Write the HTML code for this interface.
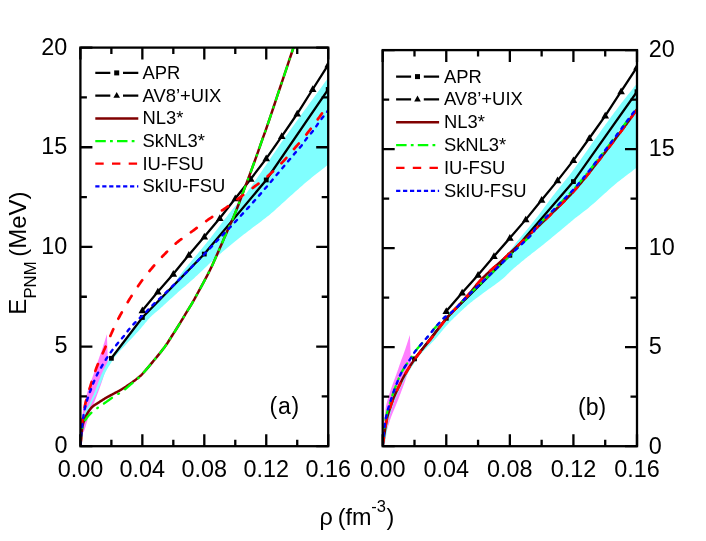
<!DOCTYPE html>
<html><head><meta charset="utf-8"><title>E_PNM</title>
<style>
html,body{margin:0;padding:0;background:#fff;}
svg{display:block;will-change:transform;}
text{font-family:"Liberation Sans",sans-serif;fill:#000;}
</style></head><body>
<svg width="706" height="541" viewBox="0 0 706 541">
<rect width="706" height="541" fill="#fff"/>
<clipPath id="clipa"><rect x="80.4" y="47.6" width="247.79999999999998" height="398.59999999999997"/></clipPath>
<g clip-path="url(#clipa)">
<path d="M81.17,432.25 L81.26,430.91 L81.35,429.55 L81.43,428.17 L81.51,426.79 L81.59,425.40 L81.68,424.03 L81.76,422.67 L81.85,421.32 L81.94,420.01 L82.04,418.73 L82.15,417.49 L82.26,416.31 L82.38,415.16 L82.49,414.06 L82.62,412.99 L82.74,411.95 L82.87,410.94 L83.00,409.96 L83.14,408.99 L83.29,408.05 L83.45,407.11 L83.61,406.18 L83.78,405.26 L83.96,404.35 L84.16,403.44 L84.36,402.55 L84.58,401.67 L84.81,400.81 L85.05,399.96 L85.29,399.12 L85.53,398.30 L85.78,397.48 L86.03,396.67 L86.27,395.87 L86.51,395.07 L86.75,394.28 L86.98,393.51 L87.19,392.78 L87.41,392.07 L87.62,391.37 L87.83,390.69 L88.04,390.00 L88.26,389.31 L88.48,388.60 L88.72,387.86 L88.97,387.09 L89.25,386.28 L89.54,385.41 L89.85,384.50 L90.19,383.54 L90.54,382.54 L90.91,381.52 L91.30,380.46 L91.69,379.39 L92.08,378.30 L92.48,377.21 L92.88,376.11 L93.27,375.02 L93.65,373.93 L94.03,372.86 L94.40,371.78 L94.77,370.69 L95.14,369.58 L95.51,368.46 L95.89,367.34 L96.26,366.22 L96.62,365.11 L96.98,364.01 L97.34,362.94 L97.69,361.89 L98.03,360.88 L98.37,359.90 L98.69,358.99 L98.99,358.14 L99.28,357.34 L99.56,356.57 L99.83,355.83 L100.11,355.09 L100.38,354.35 L100.67,353.58 L100.96,352.77 L101.26,351.90 L101.58,350.96 L101.93,349.94 L102.29,348.83 L102.67,347.65 L103.07,346.41 L103.48,345.12 L103.89,343.79 L104.32,342.43 L104.75,341.05 L105.18,339.66 L105.61,338.27 L106.04,336.88 L106.47,335.52 L106.88,334.19 L107.97,362.89 L107.70,363.72 L107.42,364.56 L107.15,365.39 L106.88,366.23 L106.60,367.06 L106.33,367.90 L106.06,368.73 L105.79,369.57 L105.52,370.39 L105.25,371.22 L104.98,372.04 L104.72,372.86 L104.45,373.67 L104.20,374.47 L103.94,375.27 L103.69,376.06 L103.44,376.85 L103.19,377.64 L102.93,378.43 L102.68,379.22 L102.42,380.01 L102.16,380.81 L101.89,381.61 L101.62,382.42 L101.34,383.23 L101.06,384.04 L100.78,384.84 L100.50,385.64 L100.21,386.45 L99.92,387.26 L99.63,388.08 L99.33,388.90 L99.02,389.75 L98.71,390.61 L98.39,391.49 L98.06,392.39 L97.71,393.32 L97.36,394.27 L97.01,395.24 L96.64,396.23 L96.27,397.23 L95.89,398.24 L95.50,399.26 L95.12,400.29 L94.73,401.31 L94.34,402.33 L93.95,403.34 L93.56,404.35 L93.17,405.34 L92.77,406.33 L92.37,407.31 L91.96,408.30 L91.55,409.28 L91.13,410.26 L90.72,411.25 L90.32,412.25 L89.92,413.25 L89.52,414.25 L89.14,415.27 L88.76,416.31 L88.39,417.38 L88.02,418.52 L87.64,419.71 L87.26,420.92 L86.89,422.14 L86.53,423.34 L86.18,424.52 L85.84,425.64 L85.53,426.70 L85.24,427.67 L84.97,428.53 L84.74,429.26 L84.54,429.86 L84.37,430.33 L84.23,430.71 L84.12,430.99 L84.02,431.21 L83.94,431.38 L83.87,431.51 L83.81,431.62 L83.74,431.74 L83.67,431.87 L83.59,432.03 L83.50,432.25Z" fill="#ff80ff"/>
<path d="M81.17,436.24 L81.24,435.23 L81.29,434.21 L81.34,433.18 L81.39,432.14 L81.44,431.10 L81.49,430.07 L81.55,429.05 L81.61,428.04 L81.68,427.06 L81.76,426.10 L81.85,425.17 L81.95,424.28 L82.06,423.42 L82.19,422.57 L82.32,421.75 L82.47,420.96 L82.61,420.18 L82.77,419.42 L82.93,418.68 L83.10,417.97 L83.27,417.27 L83.45,416.60 L83.63,415.94 L83.81,415.31 L83.99,414.70 L84.19,414.12 L84.39,413.56 L84.59,413.02 L84.80,412.50 L85.02,412.01 L85.23,411.53 L85.45,411.06 L85.66,410.61 L85.87,410.17 L86.08,409.75 L86.29,409.33 L86.48,408.95 L86.65,408.64 L86.82,408.37 L86.97,408.12 L87.13,407.90 L87.29,407.67 L87.46,407.42 L87.64,407.15 L87.85,406.82 L88.07,406.43 L88.32,405.95 L88.61,405.38 L88.93,404.71 L89.29,403.96 L89.68,403.13 L90.09,402.24 L90.52,401.31 L90.96,400.33 L91.41,399.33 L91.86,398.32 L92.31,397.31 L92.74,396.30 L93.16,395.33 L93.56,394.38 L93.95,393.46 L94.32,392.54 L94.69,391.61 L95.05,390.68 L95.41,389.76 L95.76,388.83 L96.11,387.90 L96.47,386.97 L96.82,386.04 L97.18,385.11 L97.54,384.19 L97.90,383.26 L98.27,382.34 L98.63,381.41 L98.98,380.48 L99.34,379.56 L99.70,378.63 L100.06,377.71 L100.43,376.78 L100.80,375.86 L101.18,374.93 L101.57,374.01 L101.97,373.08 L102.39,372.16 L102.83,371.22 L103.30,370.24 L103.80,369.24 L104.30,368.23 L104.82,367.22 L105.33,366.22 L105.85,365.25 L106.35,364.30 L106.84,363.41 L107.30,362.57 L107.73,361.79 L108.12,361.10 L108.44,360.54 L108.67,360.13 L108.82,359.83 L108.94,359.62 L109.03,359.46 L109.14,359.30 L109.28,359.11 L109.48,358.87 L109.76,358.52 L110.15,358.03 L110.68,357.38 L111.38,356.51 L112.24,355.44 L113.25,354.21 L114.39,352.82 L115.63,351.32 L116.96,349.71 L118.35,348.03 L119.79,346.30 L121.25,344.53 L122.70,342.75 L124.14,340.98 L125.53,339.25 L126.86,337.58 L128.15,335.92 L129.44,334.22 L130.73,332.49 L132.03,330.75 L133.32,328.99 L134.61,327.23 L135.90,325.48 L137.19,323.76 L138.48,322.06 L139.77,320.40 L141.06,318.80 L142.35,317.25 L143.65,315.76 L144.97,314.31 L146.29,312.89 L147.63,311.50 L148.96,310.15 L150.29,308.82 L151.60,307.52 L152.90,306.24 L154.18,304.98 L155.44,303.74 L156.66,302.52 L157.84,301.31 L158.98,300.14 L160.07,299.03 L161.14,297.97 L162.17,296.94 L163.19,295.93 L164.19,294.93 L165.18,293.92 L166.17,292.89 L167.16,291.84 L168.16,290.74 L169.18,289.58 L170.23,288.35 L171.30,287.05 L172.38,285.66 L173.48,284.21 L174.59,282.72 L175.70,281.20 L176.81,279.66 L177.92,278.12 L179.02,276.59 L180.10,275.09 L181.17,273.64 L182.22,272.24 L183.24,270.92 L184.23,269.66 L185.20,268.46 L186.16,267.30 L187.10,266.17 L188.02,265.07 L188.94,264.00 L189.85,262.94 L190.75,261.89 L191.65,260.83 L192.56,259.77 L193.47,258.70 L194.39,257.60 L195.32,256.48 L196.27,255.34 L197.24,254.18 L198.21,253.01 L199.18,251.84 L200.14,250.68 L201.08,249.54 L202.01,248.42 L202.91,247.33 L203.78,246.27 L204.60,245.27 L205.38,244.31 L206.08,243.46 L206.66,242.74 L207.17,242.12 L207.63,241.56 L208.05,241.03 L208.48,240.50 L208.93,239.93 L209.44,239.29 L210.02,238.55 L210.71,237.66 L211.53,236.60 L212.51,235.34 L213.66,233.84 L214.97,232.12 L216.40,230.22 L217.94,228.18 L219.56,226.03 L221.23,223.82 L222.93,221.57 L224.63,219.34 L226.31,217.15 L227.93,215.04 L229.49,213.05 L230.94,211.23 L232.30,209.55 L233.62,208.00 L234.89,206.53 L236.14,205.13 L237.35,203.77 L238.56,202.44 L239.75,201.11 L240.95,199.76 L242.17,198.37 L243.40,196.90 L244.66,195.35 L245.96,193.69 L247.29,191.93 L248.63,190.10 L249.98,188.23 L251.35,186.30 L252.72,184.33 L254.11,182.31 L255.51,180.27 L256.92,178.20 L258.35,176.11 L259.78,174.00 L261.23,171.89 L262.69,169.77 L264.17,167.62 L265.68,165.42 L267.22,163.17 L268.77,160.88 L270.34,158.58 L271.91,156.27 L273.48,153.96 L275.05,151.66 L276.60,149.40 L278.13,147.17 L279.64,144.98 L281.12,142.87 L282.52,140.87 L283.83,139.01 L285.06,137.26 L286.26,135.58 L287.45,133.92 L288.65,132.25 L289.89,130.53 L291.20,128.72 L292.61,126.77 L294.14,124.65 L295.83,122.32 L297.69,119.75 L299.74,116.91 L301.97,113.83 L304.34,110.56 L306.83,107.13 L309.41,103.57 L312.07,99.90 L314.78,96.17 L317.51,92.41 L320.25,88.65 L322.95,84.92 L325.61,81.26 L328.20,77.69 L328.20,164.59 L326.58,165.87 L324.96,167.14 L323.34,168.41 L321.71,169.67 L320.09,170.94 L318.46,172.21 L316.84,173.48 L315.22,174.76 L313.62,176.04 L312.01,177.33 L310.42,178.63 L308.84,179.94 L307.28,181.25 L305.74,182.55 L304.21,183.86 L302.70,185.18 L301.20,186.49 L299.69,187.82 L298.19,189.16 L296.67,190.51 L295.14,191.87 L293.59,193.25 L292.01,194.65 L290.41,196.08 L288.77,197.55 L287.08,199.07 L285.36,200.63 L283.61,202.23 L281.85,203.84 L280.09,205.45 L278.33,207.04 L276.59,208.62 L274.87,210.16 L273.19,211.64 L271.55,213.07 L269.97,214.41 L268.44,215.68 L266.97,216.87 L265.53,218.00 L264.13,219.08 L262.76,220.12 L261.40,221.14 L260.05,222.14 L258.70,223.15 L257.33,224.16 L255.95,225.19 L254.54,226.26 L253.09,227.37 L251.60,228.51 L250.11,229.66 L248.59,230.83 L247.06,232.00 L245.52,233.18 L243.98,234.37 L242.42,235.57 L240.87,236.78 L239.31,238.00 L237.75,239.23 L236.20,240.47 L234.66,241.72 L233.12,242.96 L231.61,244.20 L230.10,245.43 L228.60,246.67 L227.10,247.92 L225.60,249.18 L224.07,250.46 L222.54,251.78 L220.97,253.13 L219.38,254.52 L217.74,255.96 L216.07,257.46 L214.33,259.05 L212.51,260.73 L210.64,262.49 L208.72,264.31 L206.78,266.17 L204.83,268.04 L202.89,269.90 L200.98,271.74 L199.11,273.53 L197.30,275.25 L195.56,276.87 L193.92,278.39 L192.38,279.79 L190.93,281.09 L189.55,282.31 L188.22,283.47 L186.94,284.58 L185.69,285.65 L184.45,286.71 L183.21,287.77 L181.96,288.85 L180.67,289.96 L179.35,291.12 L177.97,292.34 L176.52,293.64 L175.00,295.02 L173.43,296.44 L171.83,297.90 L170.21,299.37 L168.60,300.85 L167.01,302.30 L165.46,303.72 L163.97,305.09 L162.55,306.38 L161.22,307.59 L160.01,308.68 L158.91,309.66 L157.92,310.51 L157.01,311.28 L156.19,311.96 L155.41,312.60 L154.68,313.20 L153.98,313.78 L153.28,314.38 L152.57,315.00 L151.84,315.68 L151.07,316.42 L150.25,317.25 L149.42,318.13 L148.64,318.99 L147.89,319.86 L147.15,320.74 L146.40,321.65 L145.63,322.60 L144.81,323.61 L143.93,324.68 L142.97,325.84 L141.91,327.10 L140.73,328.46 L139.41,329.95 L137.88,331.64 L136.11,333.56 L134.16,335.68 L132.08,337.93 L129.91,340.26 L127.71,342.62 L125.54,344.96 L123.44,347.22 L121.46,349.37 L119.66,351.33 L118.09,353.07 L116.80,354.52 L115.79,355.69 L115.01,356.61 L114.43,357.33 L114.00,357.88 L113.70,358.31 L113.49,358.65 L113.34,358.95 L113.21,359.24 L113.06,359.56 L112.86,359.95 L112.58,360.45 L112.18,361.10 L111.69,361.86 L111.16,362.68 L110.61,363.55 L110.03,364.45 L109.44,365.39 L108.85,366.35 L108.25,367.32 L107.66,368.30 L107.08,369.29 L106.52,370.26 L105.99,371.22 L105.49,372.16 L105.02,373.08 L104.58,374.01 L104.15,374.93 L103.74,375.86 L103.35,376.78 L102.96,377.71 L102.58,378.63 L102.21,379.56 L101.83,380.48 L101.46,381.41 L101.08,382.34 L100.69,383.26 L100.29,384.20 L99.89,385.18 L99.48,386.17 L99.07,387.17 L98.66,388.17 L98.25,389.17 L97.85,390.14 L97.46,391.08 L97.08,391.99 L96.72,392.85 L96.37,393.65 L96.04,394.38 L95.74,395.04 L95.45,395.62 L95.19,396.15 L94.94,396.62 L94.70,397.06 L94.46,397.47 L94.24,397.86 L94.02,398.25 L93.80,398.65 L93.57,399.06 L93.34,399.50 L93.10,399.98 L92.85,400.50 L92.60,401.03 L92.34,401.58 L92.08,402.14 L91.83,402.70 L91.57,403.27 L91.32,403.83 L91.07,404.39 L90.83,404.94 L90.59,405.47 L90.37,405.99 L90.16,406.48 L89.96,406.96 L89.77,407.43 L89.58,407.90 L89.41,408.37 L89.24,408.82 L89.08,409.26 L88.92,409.68 L88.77,410.09 L88.61,410.48 L88.46,410.85 L88.30,411.20 L88.14,411.52 L87.98,411.81 L87.83,412.06 L87.68,412.27 L87.52,412.46 L87.37,412.64 L87.22,412.80 L87.07,412.95 L86.92,413.11 L86.77,413.28 L86.61,413.46 L86.45,413.67 L86.29,413.91 L86.11,414.16 L85.94,414.40 L85.76,414.64 L85.58,414.88 L85.40,415.13 L85.21,415.40 L85.03,415.68 L84.84,416.00 L84.66,416.36 L84.47,416.75 L84.29,417.20 L84.12,417.70 L83.94,418.26 L83.76,418.86 L83.57,419.52 L83.39,420.21 L83.20,420.94 L83.02,421.70 L82.85,422.49 L82.68,423.30 L82.52,424.12 L82.37,424.96 L82.23,425.81 L82.10,426.67 L82.00,427.54 L81.90,428.45 L81.82,429.38 L81.75,430.33 L81.69,431.30 L81.64,432.29 L81.59,433.28 L81.54,434.28 L81.49,435.28 L81.44,436.27 L81.39,437.26 L81.33,438.23Z" fill="#80ffff"/>
</g>
<g clip-path="url(#clipa)">
<path d="M111.38,358.31 L142.35,317.45 L204.30,254.07 L266.25,179.94 L328.20,89.45" fill="none" stroke="#000" stroke-width="2.3"/>
<rect x="108.97" y="355.91" width="4.8" height="4.8" fill="#000"/>
<rect x="139.95" y="315.05" width="4.8" height="4.8" fill="#000"/>
<rect x="201.90" y="251.67" width="4.8" height="4.8" fill="#000"/>
<rect x="263.85" y="177.54" width="4.8" height="4.8" fill="#000"/>
<rect x="325.80" y="87.05" width="4.8" height="4.8" fill="#000"/>
<path d="M142.35,310.48 L157.84,291.74 L173.32,274.00 L188.81,255.07 L204.30,236.74 L219.79,218.20 L235.28,198.47 L250.76,178.94 L266.25,158.61 L281.74,136.29 L297.23,113.77 L312.71,89.25 L328.20,64.74" fill="none" stroke="#000" stroke-width="2.3"/>
<path d="M142.35,306.48 L146.15,313.18 L138.55,313.18Z" fill="#000"/>
<path d="M157.84,287.74 L161.64,294.44 L154.04,294.44Z" fill="#000"/>
<path d="M173.32,270.00 L177.12,276.70 L169.52,276.70Z" fill="#000"/>
<path d="M188.81,251.07 L192.61,257.77 L185.01,257.77Z" fill="#000"/>
<path d="M204.30,232.74 L208.10,239.44 L200.50,239.44Z" fill="#000"/>
<path d="M219.79,214.20 L223.59,220.90 L215.99,220.90Z" fill="#000"/>
<path d="M235.28,194.47 L239.08,201.17 L231.47,201.17Z" fill="#000"/>
<path d="M250.76,174.94 L254.56,181.64 L246.96,181.64Z" fill="#000"/>
<path d="M266.25,154.61 L270.05,161.31 L262.45,161.31Z" fill="#000"/>
<path d="M281.74,132.29 L285.54,138.99 L277.94,138.99Z" fill="#000"/>
<path d="M297.23,109.77 L301.03,116.47 L293.43,116.47Z" fill="#000"/>
<path d="M312.71,85.25 L316.51,91.95 L308.91,91.95Z" fill="#000"/>
<path d="M328.20,60.74 L332.00,67.44 L324.40,67.44Z" fill="#000"/>
</g>
<g clip-path="url(#clipa)" fill="none" stroke-linecap="butt" stroke-linejoin="round">
<path d="M80.50,445.00 L80.57,444.40 L80.63,443.83 L80.69,443.26 L80.76,442.71 L80.82,442.15 L80.88,441.59 L80.95,441.01 L81.01,440.41 L81.08,439.79 L81.15,439.14 L81.22,438.44 L81.30,437.70 L81.38,436.90 L81.45,436.04 L81.52,435.12 L81.59,434.17 L81.67,433.19 L81.74,432.20 L81.83,431.20 L81.92,430.22 L82.02,429.25 L82.13,428.32 L82.26,427.43 L82.40,426.60 L82.56,425.81 L82.73,425.05 L82.91,424.32 L83.11,423.61 L83.31,422.92 L83.53,422.24 L83.74,421.59 L83.97,420.95 L84.20,420.32 L84.43,419.71 L84.67,419.10 L84.90,418.50 L85.13,417.91 L85.37,417.35 L85.60,416.80 L85.84,416.27 L86.08,415.75 L86.33,415.24 L86.59,414.74 L86.85,414.24 L87.12,413.76 L87.40,413.27 L87.69,412.79 L88.00,412.30 L88.31,411.81 L88.63,411.33 L88.95,410.85 L89.29,410.38 L89.62,409.91 L89.98,409.45 L90.34,408.99 L90.71,408.54 L91.11,408.10 L91.52,407.66 L91.95,407.22 L92.40,406.80 L92.87,406.39 L93.37,405.98 L93.89,405.59 L94.43,405.21 L94.98,404.83 L95.54,404.46 L96.12,404.09 L96.71,403.71 L97.30,403.34 L97.90,402.97 L98.50,402.59 L99.10,402.20 L99.71,401.81 L100.32,401.40 L100.95,401.00 L101.59,400.59 L102.23,400.18 L102.88,399.77 L103.53,399.37 L104.19,398.96 L104.84,398.56 L105.50,398.17 L106.15,397.78 L106.80,397.40 L107.45,397.02 L108.12,396.65 L108.80,396.28 L109.48,395.91 L110.16,395.54 L110.84,395.18 L111.51,394.83 L112.17,394.48 L112.81,394.14 L113.43,393.82 L114.03,393.50 L114.60,393.20 L115.13,392.92 L115.61,392.68 L116.05,392.46 L116.46,392.25 L116.86,392.06 L117.26,391.86 L117.66,391.66 L118.07,391.45 L118.51,391.21 L118.99,390.95 L119.52,390.65 L120.10,390.30 L120.74,389.91 L121.44,389.49 L122.17,389.03 L122.94,388.55 L123.73,388.05 L124.54,387.53 L125.37,387.00 L126.20,386.46 L127.02,385.91 L127.83,385.37 L128.63,384.83 L129.40,384.30 L130.16,383.77 L130.92,383.24 L131.68,382.69 L132.44,382.15 L133.20,381.60 L133.96,381.04 L134.70,380.49 L135.43,379.93 L136.15,379.37 L136.85,378.81 L137.54,378.26 L138.20,377.70 L138.80,377.19 L139.32,376.77 L139.77,376.40 L140.19,376.05 L140.59,375.70 L141.01,375.32 L141.45,374.90 L141.96,374.39 L142.54,373.77 L143.22,373.01 L144.04,372.10 L145.00,371.00 L146.15,369.66 L147.49,368.09 L148.99,366.33 L150.60,364.42 L152.29,362.40 L154.02,360.31 L155.76,358.20 L157.47,356.11 L159.12,354.09 L160.66,352.16 L162.07,350.39 L163.30,348.80 L164.37,347.38 L165.34,346.06 L166.21,344.82 L167.01,343.67 L167.74,342.57 L168.41,341.52 L169.05,340.51 L169.67,339.52 L170.28,338.54 L170.89,337.55 L171.53,336.54 L172.20,335.50 L172.89,334.44 L173.56,333.39 L174.23,332.35 L174.89,331.31 L175.54,330.28 L176.19,329.26 L176.82,328.25 L177.45,327.24 L178.07,326.25 L178.69,325.26 L179.30,324.27 L179.90,323.30 L180.50,322.33 L181.08,321.37 L181.66,320.42 L182.23,319.48 L182.79,318.54 L183.35,317.61 L183.90,316.69 L184.45,315.78 L184.99,314.87 L185.53,313.97 L186.07,313.08 L186.60,312.20 L187.13,311.33 L187.65,310.48 L188.17,309.65 L188.68,308.83 L189.18,308.01 L189.69,307.20 L190.19,306.39 L190.69,305.57 L191.19,304.75 L191.69,303.92 L192.19,303.07 L192.70,302.20 L193.21,301.31 L193.72,300.41 L194.23,299.49 L194.75,298.56 L195.26,297.62 L195.78,296.68 L196.29,295.74 L196.80,294.80 L197.30,293.86 L197.81,292.93 L198.31,292.01 L198.80,291.10 L199.29,290.20 L199.78,289.32 L200.26,288.44 L200.74,287.56 L201.21,286.69 L201.69,285.82 L202.16,284.95 L202.63,284.09 L203.10,283.22 L203.57,282.35 L204.03,281.48 L204.50,280.60 L204.96,279.73 L205.42,278.87 L205.87,278.03 L206.32,277.18 L206.77,276.34 L207.22,275.49 L207.67,274.63 L208.12,273.75 L208.58,272.86 L209.05,271.94 L209.52,270.99 L210.00,270.00 L210.48,269.01 L210.94,268.06 L211.39,267.11 L211.83,266.16 L212.29,265.19 L212.75,264.18 L213.23,263.12 L213.74,262.00 L214.29,260.79 L214.88,259.48 L215.51,258.05 L216.20,256.50 L216.96,254.77 L217.81,252.85 L218.71,250.78 L219.66,248.59 L220.65,246.32 L221.66,244.00 L222.67,241.67 L223.67,239.35 L224.65,237.09 L225.59,234.93 L226.48,232.88 L227.30,231.00 L228.06,229.28 L228.76,227.70 L229.43,226.22 L230.06,224.82 L230.67,223.48 L231.27,222.16 L231.86,220.85 L232.45,219.53 L233.05,218.15 L233.67,216.71 L234.32,215.16 L235.00,213.50 L235.71,211.73 L236.45,209.88 L237.19,207.96 L237.95,205.99 L238.72,203.97 L239.50,201.92 L240.28,199.84 L241.07,197.74 L241.86,195.64 L242.64,193.55 L243.43,191.46 L244.20,189.40 L244.97,187.35 L245.75,185.30 L246.52,183.23 L247.30,181.17 L248.07,179.09 L248.85,177.01 L249.63,174.93 L250.40,172.83 L251.18,170.73 L251.95,168.63 L252.73,166.52 L253.50,164.40 L254.28,162.25 L255.07,160.05 L255.87,157.81 L256.67,155.56 L257.48,153.30 L258.27,151.04 L259.06,148.81 L259.84,146.62 L260.59,144.48 L261.32,142.40 L262.03,140.40 L262.70,138.50 L263.28,136.87 L263.73,135.61 L264.10,134.61 L264.41,133.77 L264.70,132.99 L265.01,132.14 L265.37,131.14 L265.82,129.87 L266.39,128.23 L267.12,126.11 L268.05,123.40 L269.20,120.00 L270.60,115.86 L272.21,111.07 L274.01,105.73 L275.96,99.91 L278.03,93.72 L280.19,87.26 L282.42,80.60 L284.68,73.86 L286.94,67.11 L289.16,60.45 L291.33,53.99 L293.40,47.80" stroke="#800000" stroke-width="2.5"/>
<path d="M80.50,445.00 L80.58,443.91 L80.66,442.79 L80.73,441.66 L80.80,440.52 L80.87,439.38 L80.94,438.24 L81.01,437.13 L81.09,436.04 L81.18,434.98 L81.28,433.97 L81.38,433.00 L81.50,432.10 L81.63,431.26 L81.76,430.46 L81.90,429.72 L82.04,429.01 L82.20,428.33 L82.36,427.69 L82.52,427.06 L82.70,426.46 L82.89,425.87 L83.08,425.28 L83.28,424.69 L83.50,424.10 L83.72,423.51 L83.95,422.95 L84.17,422.40 L84.41,421.87 L84.66,421.34 L84.91,420.83 L85.18,420.32 L85.47,419.82 L85.77,419.32 L86.09,418.82 L86.43,418.31 L86.80,417.80 L87.19,417.28 L87.60,416.77 L88.03,416.25 L88.48,415.73 L88.95,415.22 L89.43,414.71 L89.93,414.20 L90.44,413.69 L90.96,413.19 L91.50,412.69 L92.05,412.19 L92.60,411.70 L93.17,411.21 L93.76,410.73 L94.37,410.26 L95.00,409.79 L95.63,409.32 L96.28,408.85 L96.94,408.39 L97.59,407.93 L98.25,407.47 L98.91,407.01 L99.56,406.55 L100.20,406.10 L100.84,405.65 L101.49,405.19 L102.14,404.74 L102.80,404.29 L103.45,403.85 L104.11,403.40 L104.76,402.96 L105.40,402.52 L106.04,402.08 L106.67,401.65 L107.29,401.22 L107.90,400.80 L108.49,400.38 L109.06,399.97 L109.62,399.56 L110.17,399.16 L110.71,398.75 L111.24,398.36 L111.78,397.96 L112.32,397.57 L112.87,397.17 L113.43,396.78 L114.01,396.39 L114.60,396.00 L115.21,395.61 L115.85,395.24 L116.49,394.87 L117.15,394.50 L117.81,394.13 L118.48,393.77 L119.15,393.40 L119.82,393.02 L120.48,392.64 L121.13,392.24 L121.77,391.83 L122.40,391.40 L123.01,390.96 L123.59,390.51 L124.16,390.05 L124.73,389.58 L125.28,389.10 L125.84,388.62 L126.40,388.12 L126.96,387.62 L127.54,387.10 L128.14,386.58 L128.76,386.04 L129.40,385.50 L130.08,384.94 L130.79,384.36 L131.52,383.77 L132.27,383.17 L133.04,382.55 L133.81,381.93 L134.58,381.31 L135.35,380.68 L136.10,380.05 L136.83,379.43 L137.53,378.81 L138.20,378.20 L138.80,377.64 L139.32,377.17 L139.77,376.74 L140.19,376.35 L140.59,375.95 L141.01,375.53 L141.45,375.06 L141.96,374.51 L142.54,373.85 L143.22,373.07 L144.04,372.12 L145.00,371.00 L146.15,369.65 L147.49,368.07 L148.99,366.30 L150.60,364.38 L152.29,362.36 L154.02,360.28 L155.76,358.18 L157.47,356.10 L159.12,354.08 L160.66,352.16 L162.07,350.39 L163.30,348.80 L164.37,347.38 L165.34,346.06 L166.21,344.82 L167.01,343.67 L167.74,342.57 L168.41,341.52 L169.05,340.51 L169.67,339.52 L170.28,338.54 L170.89,337.55 L171.53,336.54 L172.20,335.50 L172.89,334.44 L173.56,333.39 L174.23,332.35 L174.89,331.31 L175.54,330.28 L176.19,329.26 L176.82,328.25 L177.45,327.24 L178.07,326.25 L178.69,325.26 L179.30,324.27 L179.90,323.30 L180.50,322.33 L181.08,321.37 L181.66,320.42 L182.23,319.48 L182.79,318.54 L183.35,317.61 L183.90,316.69 L184.45,315.78 L184.99,314.87 L185.53,313.97 L186.07,313.08 L186.60,312.20 L187.13,311.33 L187.65,310.48 L188.17,309.65 L188.68,308.83 L189.18,308.01 L189.69,307.20 L190.19,306.39 L190.69,305.57 L191.19,304.75 L191.69,303.92 L192.19,303.07 L192.70,302.20 L193.21,301.31 L193.72,300.41 L194.23,299.49 L194.75,298.56 L195.26,297.62 L195.78,296.68 L196.29,295.74 L196.80,294.80 L197.30,293.86 L197.81,292.93 L198.31,292.01 L198.80,291.10 L199.29,290.20 L199.78,289.32 L200.26,288.44 L200.74,287.56 L201.21,286.69 L201.69,285.82 L202.16,284.95 L202.63,284.09 L203.10,283.22 L203.57,282.35 L204.03,281.48 L204.50,280.60 L204.96,279.73 L205.42,278.87 L205.87,278.03 L206.32,277.18 L206.77,276.34 L207.22,275.49 L207.67,274.63 L208.12,273.75 L208.58,272.86 L209.05,271.94 L209.52,270.99 L210.00,270.00 L210.48,269.01 L210.94,268.06 L211.39,267.11 L211.83,266.16 L212.29,265.19 L212.75,264.18 L213.23,263.12 L213.74,262.00 L214.29,260.79 L214.88,259.48 L215.51,258.05 L216.20,256.50 L216.96,254.77 L217.81,252.85 L218.71,250.78 L219.66,248.59 L220.65,246.32 L221.66,244.00 L222.67,241.67 L223.67,239.35 L224.65,237.09 L225.59,234.93 L226.48,232.88 L227.30,231.00 L228.06,229.28 L228.76,227.70 L229.43,226.22 L230.06,224.82 L230.67,223.48 L231.27,222.16 L231.86,220.85 L232.45,219.53 L233.05,218.15 L233.67,216.71 L234.32,215.16 L235.00,213.50 L235.71,211.73 L236.45,209.88 L237.19,207.96 L237.95,205.99 L238.72,203.97 L239.50,201.92 L240.28,199.84 L241.07,197.74 L241.86,195.64 L242.64,193.55 L243.43,191.46 L244.20,189.40 L244.97,187.35 L245.75,185.30 L246.52,183.23 L247.30,181.17 L248.07,179.09 L248.85,177.01 L249.63,174.93 L250.40,172.83 L251.18,170.73 L251.95,168.63 L252.73,166.52 L253.50,164.40 L254.28,162.25 L255.07,160.05 L255.87,157.81 L256.67,155.56 L257.48,153.30 L258.27,151.04 L259.06,148.81 L259.84,146.62 L260.59,144.48 L261.32,142.40 L262.03,140.40 L262.70,138.50 L263.28,136.87 L263.73,135.61 L264.10,134.61 L264.41,133.77 L264.70,132.99 L265.01,132.14 L265.37,131.14 L265.82,129.87 L266.39,128.23 L267.12,126.11 L268.05,123.40 L269.20,120.00 L270.60,115.86 L272.21,111.07 L274.01,105.73 L275.96,99.91 L278.03,93.72 L280.19,87.26 L282.42,80.60 L284.68,73.86 L286.94,67.11 L289.16,60.45 L291.33,53.99 L293.40,47.80" stroke="#00ff00" stroke-width="2.3" stroke-linecap="round" stroke-dasharray="9.8 7.4 0.8 7.4"/>
<path d="M80.50,445.00 L80.61,443.18 L80.71,441.35 L80.81,439.51 L80.90,437.66 L80.99,435.82 L81.08,433.98 L81.18,432.14 L81.29,430.33 L81.42,428.53 L81.56,426.75 L81.72,425.01 L81.90,423.30 L82.11,421.59 L82.35,419.86 L82.62,418.12 L82.90,416.38 L83.20,414.66 L83.50,412.98 L83.81,411.34 L84.11,409.77 L84.41,408.27 L84.69,406.87 L84.96,405.57 L85.20,404.40 L85.42,403.37 L85.63,402.47 L85.83,401.69 L86.02,401.00 L86.20,400.40 L86.38,399.85 L86.55,399.34 L86.71,398.85 L86.88,398.36 L87.05,397.85 L87.22,397.31 L87.40,396.70 L87.56,396.10 L87.70,395.56 L87.83,395.07 L87.94,394.60 L88.05,394.12 L88.18,393.63 L88.31,393.09 L88.47,392.49 L88.66,391.80 L88.89,391.01 L89.17,390.08 L89.50,389.00 L89.89,387.74 L90.34,386.30 L90.83,384.72 L91.37,383.02 L91.93,381.23 L92.52,379.39 L93.12,377.52 L93.73,375.65 L94.34,373.81 L94.95,372.04 L95.54,370.36 L96.10,368.80 L96.65,367.35 L97.19,365.96 L97.73,364.62 L98.27,363.33 L98.81,362.06 L99.36,360.82 L99.90,359.60 L100.45,358.37 L101.00,357.14 L101.56,355.89 L102.13,354.62 L102.70,353.30 L103.30,351.92 L103.94,350.46 L104.60,348.96 L105.27,347.42 L105.95,345.87 L106.63,344.34 L107.28,342.85 L107.92,341.41 L108.52,340.06 L109.07,338.81 L109.57,337.68 L110.00,336.70 L110.35,335.90 L110.62,335.29 L110.82,334.82 L110.97,334.47 L111.08,334.19 L111.17,333.97 L111.27,333.76 L111.37,333.52 L111.50,333.23 L111.67,332.86 L111.90,332.36 L112.20,331.70 L112.56,330.91 L112.95,330.05 L113.37,329.12 L113.82,328.12 L114.30,327.07 L114.80,325.98 L115.33,324.84 L115.88,323.67 L116.45,322.47 L117.05,321.26 L117.66,320.03 L118.30,318.80 L118.96,317.55 L119.66,316.25 L120.38,314.92 L121.13,313.56 L121.90,312.18 L122.69,310.77 L123.50,309.35 L124.32,307.91 L125.15,306.48 L126.00,305.04 L126.85,303.62 L127.70,302.20 L128.57,300.78 L129.46,299.33 L130.37,297.86 L131.29,296.39 L132.23,294.91 L133.18,293.43 L134.12,291.96 L135.07,290.51 L136.02,289.08 L136.96,287.68 L137.89,286.32 L138.80,285.00 L139.69,283.73 L140.56,282.51 L141.41,281.33 L142.25,280.19 L143.09,279.06 L143.93,277.95 L144.77,276.85 L145.64,275.74 L146.53,274.62 L147.45,273.48 L148.40,272.31 L149.40,271.10 L150.44,269.85 L151.53,268.56 L152.66,267.25 L153.81,265.92 L154.99,264.57 L156.18,263.23 L157.38,261.88 L158.59,260.55 L159.79,259.24 L160.98,257.95 L162.15,256.70 L163.30,255.50 L164.43,254.33 L165.54,253.19 L166.64,252.07 L167.74,250.97 L168.83,249.90 L169.92,248.84 L171.01,247.80 L172.11,246.77 L173.21,245.76 L174.33,244.76 L175.46,243.78 L176.60,242.80 L177.76,241.85 L178.92,240.92 L180.09,240.03 L181.26,239.15 L182.44,238.29 L183.63,237.44 L184.83,236.59 L186.04,235.74 L187.26,234.88 L188.49,234.01 L189.74,233.12 L191.00,232.20 L192.27,231.27 L193.55,230.32 L194.83,229.37 L196.12,228.41 L197.43,227.44 L198.74,226.47 L200.08,225.49 L201.42,224.50 L202.79,223.51 L204.17,222.51 L205.57,221.51 L207.00,220.50 L208.48,219.47 L210.04,218.40 L211.66,217.30 L213.31,216.19 L214.99,215.07 L216.66,213.96 L218.30,212.86 L219.91,211.79 L221.45,210.76 L222.91,209.77 L224.27,208.85 L225.50,208.00 L226.58,207.24 L227.52,206.58 L228.34,205.99 L229.07,205.45 L229.74,204.96 L230.37,204.48 L230.99,204.01 L231.64,203.51 L232.34,202.99 L233.11,202.40 L233.99,201.75 L235.00,201.00 L236.14,200.16 L237.38,199.26 L238.69,198.30 L240.07,197.29 L241.50,196.25 L242.97,195.18 L244.45,194.10 L245.94,193.01 L247.41,191.92 L248.86,190.85 L250.26,189.81 L251.60,188.80 L252.90,187.82 L254.17,186.87 L255.43,185.93 L256.67,185.00 L257.89,184.08 L259.11,183.15 L260.32,182.22 L261.53,181.28 L262.74,180.32 L263.95,179.34 L265.17,178.34 L266.40,177.30 L267.65,176.23 L268.91,175.12 L270.19,173.98 L271.47,172.82 L272.76,171.65 L274.04,170.46 L275.30,169.27 L276.55,168.09 L277.77,166.91 L278.95,165.75 L280.10,164.61 L281.20,163.50 L282.25,162.42 L283.24,161.36 L284.19,160.32 L285.10,159.30 L285.99,158.28 L286.86,157.27 L287.72,156.26 L288.59,155.24 L289.45,154.21 L290.34,153.16 L291.25,152.09 L292.20,151.00 L293.17,149.89 L294.16,148.77 L295.16,147.64 L296.17,146.50 L297.18,145.35 L298.21,144.19 L299.23,143.02 L300.27,141.83 L301.30,140.62 L302.34,139.40 L303.37,138.16 L304.40,136.90 L305.43,135.61 L306.48,134.30 L307.53,132.95 L308.59,131.59 L309.64,130.21 L310.70,128.82 L311.75,127.43 L312.80,126.03 L313.85,124.63 L314.88,123.24 L315.90,121.86 L316.90,120.50 L317.89,119.15 L318.86,117.80 L319.83,116.45 L320.78,115.11 L321.73,113.77 L322.67,112.43 L323.61,111.09 L324.54,109.76 L325.48,108.42 L326.41,107.08 L327.35,105.74 L328.30,104.40" stroke="#ff0000" stroke-width="2.7" stroke-linecap="round" stroke-dasharray="7.3 11.7"/>
<path d="M80.50,445.00 L80.56,444.14 L80.62,443.33 L80.67,442.54 L80.71,441.77 L80.76,441.00 L80.81,440.22 L80.87,439.41 L80.93,438.55 L81.00,437.63 L81.09,436.65 L81.18,435.57 L81.30,434.40 L81.43,433.09 L81.58,431.64 L81.75,430.08 L81.92,428.43 L82.11,426.72 L82.30,424.98 L82.50,423.24 L82.70,421.53 L82.90,419.87 L83.11,418.29 L83.31,416.83 L83.50,415.50 L83.69,414.29 L83.88,413.17 L84.08,412.12 L84.27,411.14 L84.47,410.21 L84.67,409.32 L84.87,408.47 L85.07,407.65 L85.27,406.84 L85.48,406.03 L85.69,405.22 L85.90,404.40 L86.12,403.57 L86.34,402.75 L86.57,401.94 L86.80,401.14 L87.03,400.36 L87.27,399.60 L87.50,398.86 L87.73,398.13 L87.96,397.43 L88.18,396.76 L88.40,396.12 L88.60,395.50 L88.79,394.93 L88.98,394.40 L89.16,393.92 L89.33,393.46 L89.49,393.03 L89.66,392.62 L89.82,392.21 L89.99,391.80 L90.15,391.39 L90.33,390.95 L90.51,390.49 L90.70,390.00 L90.90,389.49 L91.09,388.97 L91.28,388.44 L91.48,387.90 L91.68,387.36 L91.89,386.81 L92.10,386.24 L92.32,385.66 L92.55,385.07 L92.79,384.46 L93.04,383.84 L93.30,383.20 L93.58,382.53 L93.88,381.82 L94.19,381.09 L94.51,380.34 L94.84,379.57 L95.17,378.79 L95.52,378.02 L95.86,377.25 L96.20,376.50 L96.54,375.77 L96.87,375.07 L97.20,374.40 L97.52,373.77 L97.83,373.17 L98.14,372.60 L98.44,372.05 L98.75,371.52 L99.06,370.99 L99.37,370.46 L99.68,369.94 L100.00,369.40 L100.32,368.86 L100.66,368.29 L101.00,367.70 L101.35,367.09 L101.71,366.46 L102.08,365.82 L102.45,365.18 L102.83,364.52 L103.21,363.86 L103.60,363.20 L103.99,362.53 L104.39,361.87 L104.79,361.21 L105.19,360.55 L105.60,359.90 L106.01,359.26 L106.42,358.62 L106.83,357.98 L107.24,357.35 L107.66,356.71 L108.09,356.08 L108.52,355.45 L108.96,354.81 L109.40,354.16 L109.86,353.52 L110.32,352.86 L110.80,352.20 L111.29,351.53 L111.80,350.84 L112.32,350.14 L112.86,349.44 L113.40,348.73 L113.94,348.02 L114.49,347.31 L115.04,346.61 L115.59,345.91 L116.14,345.23 L116.67,344.56 L117.20,343.90 L117.72,343.27 L118.23,342.65 L118.73,342.05 L119.23,341.47 L119.73,340.89 L120.23,340.31 L120.73,339.74 L121.23,339.16 L121.74,338.57 L122.25,337.96 L122.77,337.34 L123.30,336.70 L123.83,336.04 L124.37,335.36 L124.91,334.66 L125.45,333.96 L126.00,333.24 L126.55,332.52 L127.11,331.79 L127.67,331.07 L128.24,330.34 L128.82,329.62 L129.40,328.91 L130.00,328.20 L130.61,327.49 L131.24,326.78 L131.88,326.06 L132.53,325.34 L133.19,324.62 L133.85,323.90 L134.51,323.19 L135.17,322.50 L135.82,321.82 L136.46,321.15 L137.09,320.51 L137.70,319.90 L138.29,319.32 L138.88,318.77 L139.45,318.25 L140.01,317.74 L140.57,317.26 L141.12,316.78 L141.67,316.31 L142.21,315.83 L142.76,315.35 L143.30,314.85 L143.85,314.34 L144.40,313.80 L144.95,313.24 L145.48,312.68 L146.00,312.10 L146.52,311.52 L147.04,310.93 L147.56,310.34 L148.08,309.73 L148.63,309.12 L149.18,308.50 L149.76,307.88 L150.37,307.24 L151.00,306.60 L151.67,305.95 L152.37,305.27 L153.10,304.59 L153.86,303.90 L154.63,303.19 L155.41,302.49 L156.20,301.78 L156.99,301.07 L157.76,300.37 L158.53,299.67 L159.28,298.98 L160.00,298.30 L160.69,297.65 L161.33,297.03 L161.95,296.43 L162.56,295.84 L163.15,295.26 L163.75,294.68 L164.36,294.07 L165.00,293.44 L165.67,292.78 L166.39,292.08 L167.16,291.32 L168.00,290.50 L168.87,289.65 L169.76,288.80 L170.65,287.93 L171.57,287.04 L172.53,286.12 L173.53,285.15 L174.59,284.13 L175.70,283.04 L176.89,281.87 L178.17,280.62 L179.53,279.26 L181.00,277.80 L182.63,276.16 L184.47,274.32 L186.46,272.32 L188.56,270.19 L190.74,267.99 L192.94,265.76 L195.14,263.53 L197.29,261.35 L199.34,259.27 L201.25,257.32 L202.98,255.55 L204.50,254.00 L205.78,252.69 L206.86,251.57 L207.77,250.62 L208.56,249.80 L209.25,249.07 L209.88,248.39 L210.49,247.74 L211.11,247.08 L211.77,246.37 L212.52,245.58 L213.38,244.67 L214.40,243.60 L215.57,242.38 L216.86,241.03 L218.25,239.59 L219.70,238.08 L221.20,236.52 L222.73,234.94 L224.25,233.35 L225.74,231.80 L227.19,230.29 L228.57,228.85 L229.84,227.52 L231.00,226.30 L232.01,225.23 L232.89,224.31 L233.66,223.49 L234.36,222.76 L235.01,222.07 L235.63,221.40 L236.26,220.72 L236.93,220.00 L237.66,219.21 L238.48,218.31 L239.42,217.29 L240.50,216.10 L241.71,214.77 L243.02,213.34 L244.41,211.83 L245.86,210.24 L247.38,208.57 L248.96,206.84 L250.57,205.06 L252.23,203.23 L253.90,201.36 L255.60,199.46 L257.30,197.54 L259.00,195.60 L260.75,193.59 L262.59,191.45 L264.50,189.22 L266.46,186.93 L268.44,184.60 L270.43,182.25 L272.40,179.92 L274.33,177.64 L276.20,175.43 L277.98,173.31 L279.65,171.33 L281.20,169.50 L282.63,167.80 L283.99,166.20 L285.27,164.67 L286.49,163.22 L287.64,161.85 L288.74,160.54 L289.78,159.29 L290.78,158.10 L291.73,156.96 L292.65,155.87 L293.54,154.82 L294.40,153.80 L295.22,152.85 L295.97,151.98 L296.66,151.19 L297.30,150.47 L297.91,149.79 L298.47,149.16 L299.02,148.55 L299.54,147.96 L300.05,147.37 L300.56,146.77 L301.08,146.15 L301.60,145.50 L302.12,144.83 L302.62,144.16 L303.10,143.50 L303.57,142.84 L304.02,142.18 L304.47,141.53 L304.91,140.88 L305.36,140.24 L305.80,139.60 L306.26,138.96 L306.72,138.33 L307.20,137.70 L307.69,137.08 L308.19,136.48 L308.69,135.90 L309.20,135.32 L309.71,134.74 L310.22,134.17 L310.73,133.59 L311.25,133.00 L311.76,132.41 L312.28,131.79 L312.79,131.16 L313.30,130.50 L313.81,129.81 L314.32,129.10 L314.82,128.37 L315.33,127.61 L315.84,126.85 L316.35,126.08 L316.86,125.31 L317.37,124.54 L317.87,123.78 L318.38,123.03 L318.89,122.31 L319.40,121.60 L319.92,120.90 L320.45,120.20 L321.00,119.49 L321.56,118.79 L322.11,118.10 L322.66,117.42 L323.19,116.76 L323.71,116.12 L324.21,115.51 L324.67,114.93 L325.11,114.39 L325.50,113.90 L325.85,113.46 L326.16,113.06 L326.43,112.71 L326.68,112.40 L326.90,112.11 L327.11,111.84 L327.30,111.59 L327.49,111.35 L327.68,111.10 L327.87,110.85 L328.08,110.59 L328.30,110.30" stroke="#0000ff" stroke-width="2.4" stroke-linecap="round" stroke-dasharray="3.1 5.9"/>
</g>
<rect x="80.4" y="47.6" width="247.79999999999998" height="398.59999999999997" fill="none" stroke="#000" stroke-width="2.3"/>
<path d="M80.40,446.2 v-12 M80.40,47.6 v12 M111.38,446.2 v-6.5 M111.38,47.6 v6.5 M142.35,446.2 v-12 M142.35,47.6 v12 M173.32,446.2 v-6.5 M173.32,47.6 v6.5 M204.30,446.2 v-12 M204.30,47.6 v12 M235.28,446.2 v-6.5 M235.28,47.6 v6.5 M266.25,446.2 v-12 M266.25,47.6 v12 M297.23,446.2 v-6.5 M297.23,47.6 v6.5 M328.20,446.2 v-12 M328.20,47.6 v12 M80.4,446.20 h12 M328.2,446.20 h-12 M80.4,396.38 h6.5 M328.2,396.38 h-6.5 M80.4,346.55 h12 M328.2,346.55 h-12 M80.4,296.73 h6.5 M328.2,296.73 h-6.5 M80.4,246.90 h12 M328.2,246.90 h-12 M80.4,197.07 h6.5 M328.2,197.07 h-6.5 M80.4,147.25 h12 M328.2,147.25 h-12 M80.4,97.43 h6.5 M328.2,97.43 h-6.5 M80.4,47.60 h12 M328.2,47.60 h-12" stroke="#000" stroke-width="2.3" fill="none"/>
<clipPath id="clipb"><rect x="382.7" y="50.1" width="254.3" height="396.09999999999997"/></clipPath>
<g clip-path="url(#clipb)">
<path d="M383.49,432.34 L383.59,431.00 L383.67,429.65 L383.76,428.28 L383.84,426.91 L383.93,425.53 L384.01,424.17 L384.10,422.81 L384.19,421.48 L384.28,420.17 L384.39,418.90 L384.49,417.67 L384.61,416.49 L384.73,415.36 L384.85,414.26 L384.97,413.20 L385.10,412.17 L385.23,411.17 L385.37,410.19 L385.52,409.23 L385.67,408.28 L385.83,407.36 L385.99,406.44 L386.17,405.52 L386.36,404.61 L386.56,403.71 L386.77,402.82 L386.99,401.95 L387.23,401.09 L387.47,400.25 L387.72,399.42 L387.97,398.60 L388.22,397.78 L388.48,396.98 L388.73,396.18 L388.97,395.39 L389.22,394.61 L389.45,393.84 L389.67,393.11 L389.89,392.41 L390.11,391.72 L390.32,391.04 L390.54,390.36 L390.76,389.67 L390.99,388.96 L391.24,388.23 L391.50,387.46 L391.78,386.65 L392.08,385.79 L392.40,384.88 L392.75,383.93 L393.11,382.94 L393.49,381.92 L393.88,380.88 L394.28,379.81 L394.69,378.73 L395.10,377.64 L395.50,376.55 L395.91,375.46 L396.30,374.38 L396.69,373.32 L397.07,372.25 L397.45,371.16 L397.83,370.06 L398.21,368.95 L398.59,367.83 L398.97,366.72 L399.35,365.62 L399.72,364.53 L400.08,363.46 L400.44,362.42 L400.79,361.41 L401.14,360.44 L401.46,359.53 L401.78,358.69 L402.07,357.89 L402.36,357.14 L402.64,356.40 L402.92,355.67 L403.21,354.92 L403.50,354.16 L403.80,353.35 L404.11,352.49 L404.44,351.56 L404.79,350.54 L405.17,349.44 L405.56,348.27 L405.96,347.03 L406.38,345.75 L406.81,344.43 L407.25,343.08 L407.69,341.71 L408.13,340.32 L408.57,338.94 L409.01,337.57 L409.45,336.22 L409.88,334.90 L410.99,363.42 L410.71,364.24 L410.43,365.07 L410.15,365.90 L409.87,366.73 L409.59,367.56 L409.31,368.39 L409.03,369.22 L408.75,370.05 L408.48,370.87 L408.20,371.69 L407.93,372.51 L407.65,373.32 L407.38,374.12 L407.12,374.92 L406.86,375.71 L406.60,376.50 L406.34,377.29 L406.08,378.07 L405.82,378.85 L405.56,379.64 L405.30,380.43 L405.03,381.22 L404.76,382.02 L404.47,382.82 L404.19,383.63 L403.90,384.43 L403.62,385.23 L403.33,386.02 L403.03,386.82 L402.74,387.63 L402.43,388.44 L402.13,389.26 L401.81,390.10 L401.49,390.96 L401.16,391.83 L400.82,392.73 L400.47,393.65 L400.11,394.59 L399.74,395.56 L399.36,396.54 L398.98,397.54 L398.59,398.54 L398.20,399.56 L397.80,400.58 L397.41,401.59 L397.01,402.61 L396.61,403.61 L396.21,404.61 L395.81,405.60 L395.40,406.58 L394.98,407.56 L394.56,408.53 L394.14,409.51 L393.72,410.49 L393.30,411.47 L392.88,412.46 L392.47,413.45 L392.06,414.45 L391.67,415.47 L391.28,416.49 L390.90,417.56 L390.51,418.70 L390.13,419.87 L389.74,421.08 L389.36,422.29 L388.99,423.49 L388.63,424.65 L388.29,425.77 L387.96,426.82 L387.66,427.78 L387.39,428.64 L387.15,429.37 L386.94,429.96 L386.77,430.43 L386.63,430.80 L386.51,431.09 L386.42,431.31 L386.34,431.47 L386.26,431.60 L386.20,431.71 L386.13,431.83 L386.06,431.96 L385.98,432.12 L385.88,432.34Z" fill="#ff80ff"/>
<path d="M382.80,445.30 L382.93,444.43 L383.06,443.58 L383.18,442.74 L383.31,441.91 L383.43,441.08 L383.56,440.24 L383.68,439.39 L383.81,438.52 L383.95,437.62 L384.09,436.69 L384.24,435.72 L384.40,434.70 L384.57,433.61 L384.74,432.46 L384.92,431.24 L385.10,429.99 L385.29,428.70 L385.48,427.41 L385.68,426.11 L385.88,424.84 L386.08,423.59 L386.29,422.40 L386.49,421.26 L386.70,420.20 L386.91,419.21 L387.12,418.28 L387.33,417.40 L387.54,416.56 L387.76,415.75 L387.98,414.97 L388.21,414.20 L388.43,413.44 L388.67,412.67 L388.90,411.90 L389.15,411.11 L389.40,410.30 L389.66,409.47 L389.91,408.64 L390.18,407.81 L390.44,406.97 L390.72,406.14 L390.99,405.31 L391.28,404.47 L391.57,403.64 L391.86,402.80 L392.17,401.97 L392.48,401.13 L392.80,400.30 L393.13,399.47 L393.46,398.66 L393.79,397.86 L394.13,397.06 L394.48,396.25 L394.83,395.45 L395.20,394.64 L395.57,393.81 L395.96,392.97 L396.36,392.11 L396.77,391.22 L397.20,390.30 L397.65,389.34 L398.12,388.34 L398.62,387.31 L399.13,386.24 L399.65,385.17 L400.18,384.08 L400.71,383.00 L401.24,381.92 L401.77,380.87 L402.29,379.84 L402.80,378.85 L403.30,377.90 L403.79,376.99 L404.27,376.10 L404.75,375.23 L405.23,374.38 L405.70,373.55 L406.18,372.74 L406.64,371.94 L407.10,371.16 L407.56,370.40 L408.01,369.65 L408.46,368.92 L408.90,368.20 L409.33,367.51 L409.74,366.84 L410.14,366.21 L410.54,365.60 L410.93,365.00 L411.31,364.41 L411.70,363.83 L412.10,363.25 L412.50,362.66 L412.92,362.06 L413.35,361.44 L413.80,360.80 L414.27,360.14 L414.75,359.47 L415.25,358.79 L415.76,358.10 L416.27,357.40 L416.79,356.70 L417.32,356.00 L417.86,355.29 L418.39,354.59 L418.93,353.89 L419.47,353.19 L420.00,352.50 L420.54,351.81 L421.10,351.10 L421.66,350.39 L422.23,349.68 L422.81,348.96 L423.38,348.26 L423.95,347.56 L424.51,346.87 L425.06,346.19 L425.59,345.54 L426.11,344.91 L426.60,344.30 L427.06,343.73 L427.50,343.20 L427.91,342.70 L428.31,342.22 L428.70,341.76 L429.08,341.30 L429.45,340.84 L429.83,340.38 L430.22,339.90 L430.63,339.40 L431.05,338.87 L431.50,338.30 L431.96,337.70 L432.43,337.09 L432.91,336.47 L433.39,335.83 L433.88,335.17 L434.38,334.50 L434.89,333.81 L435.42,333.11 L435.96,332.38 L436.52,331.64 L437.10,330.88 L437.70,330.10 L438.32,329.29 L438.95,328.46 L439.60,327.60 L440.26,326.72 L440.94,325.82 L441.63,324.91 L442.34,323.98 L443.06,323.05 L443.80,322.11 L444.55,321.17 L445.32,320.23 L446.10,319.30 L446.90,318.37 L447.72,317.43 L448.56,316.49 L449.42,315.54 L450.30,314.58 L451.18,313.62 L452.08,312.66 L452.98,311.70 L453.88,310.73 L454.79,309.75 L455.70,308.78 L456.60,307.80 L457.49,306.84 L458.36,305.90 L459.23,304.98 L460.09,304.06 L460.95,303.14 L461.83,302.21 L462.73,301.26 L463.64,300.27 L464.59,299.24 L465.58,298.16 L466.62,297.02 L467.70,295.80 L468.81,294.53 L469.94,293.21 L471.08,291.85 L472.24,290.45 L473.44,289.01 L474.67,287.52 L475.95,286.00 L477.28,284.43 L478.68,282.81 L480.14,281.15 L481.68,279.45 L483.30,277.70 L485.07,275.85 L487.01,273.88 L489.09,271.80 L491.27,269.64 L493.52,267.45 L495.78,265.24 L498.03,263.04 L500.23,260.89 L502.33,258.81 L504.30,256.83 L506.10,254.99 L507.70,253.30 L509.09,251.77 L510.32,250.37 L511.41,249.07 L512.39,247.87 L513.27,246.73 L514.08,245.66 L514.85,244.62 L515.59,243.60 L516.34,242.59 L517.10,241.56 L517.92,240.50 L518.80,239.40 L519.72,238.27 L520.65,237.16 L521.57,236.06 L522.50,234.96 L523.42,233.87 L524.34,232.78 L525.27,231.68 L526.19,230.59 L527.12,229.48 L528.04,228.37 L528.97,227.24 L529.90,226.10 L530.83,224.95 L531.76,223.78 L532.70,222.61 L533.63,221.43 L534.56,220.25 L535.50,219.06 L536.44,217.86 L537.37,216.66 L538.30,215.45 L539.24,214.24 L540.17,213.02 L541.10,211.80 L542.03,210.57 L542.96,209.33 L543.88,208.08 L544.81,206.81 L545.73,205.55 L546.66,204.28 L547.58,203.01 L548.50,201.75 L549.43,200.50 L550.35,199.25 L551.28,198.02 L552.20,196.80 L553.13,195.59 L554.06,194.39 L555.00,193.20 L555.94,192.01 L556.88,190.84 L557.82,189.66 L558.75,188.50 L559.68,187.34 L560.60,186.19 L561.51,185.05 L562.41,183.92 L563.30,182.80 L564.13,181.75 L564.88,180.82 L565.58,179.97 L566.24,179.17 L566.90,178.37 L567.57,177.54 L568.28,176.65 L569.06,175.67 L569.93,174.54 L570.91,173.25 L572.02,171.75 L573.30,170.00 L574.79,167.94 L576.49,165.55 L578.37,162.90 L580.39,160.06 L582.49,157.07 L584.63,154.02 L586.78,150.95 L588.89,147.94 L590.92,145.05 L592.83,142.34 L594.57,139.87 L596.10,137.70 L597.43,135.82 L598.63,134.14 L599.70,132.63 L600.67,131.27 L601.55,130.03 L602.38,128.87 L603.17,127.77 L603.93,126.71 L604.70,125.65 L605.49,124.56 L606.31,123.42 L607.20,122.20 L608.14,120.91 L609.11,119.58 L610.11,118.23 L611.11,116.87 L612.11,115.52 L613.10,114.18 L614.07,112.87 L615.01,111.60 L615.92,110.39 L616.77,109.24 L617.57,108.18 L618.30,107.20 L618.93,106.36 L619.45,105.66 L619.88,105.08 L620.26,104.58 L620.59,104.13 L620.91,103.71 L621.23,103.29 L621.59,102.82 L622.00,102.29 L622.49,101.67 L623.08,100.91 L623.80,100.00 L624.64,98.94 L625.58,97.76 L626.59,96.48 L627.68,95.11 L628.82,93.68 L630.01,92.20 L631.22,90.69 L632.44,89.16 L633.66,87.62 L634.88,86.11 L636.06,84.63 L637.20,83.20 L637.20,167.20 L636.18,167.99 L635.16,168.77 L634.13,169.56 L633.10,170.36 L632.07,171.15 L631.04,171.94 L630.01,172.73 L628.99,173.51 L627.98,174.29 L626.98,175.07 L625.98,175.84 L625.00,176.60 L624.07,177.31 L623.22,177.96 L622.42,178.55 L621.66,179.12 L620.90,179.68 L620.12,180.26 L619.31,180.88 L618.43,181.57 L617.46,182.34 L616.38,183.22 L615.17,184.23 L613.80,185.40 L612.23,186.76 L610.47,188.32 L608.54,190.04 L606.50,191.88 L604.36,193.81 L602.18,195.79 L599.97,197.78 L597.79,199.74 L595.67,201.64 L593.64,203.44 L591.74,205.11 L590.00,206.60 L588.41,207.93 L586.90,209.17 L585.47,210.31 L584.11,211.37 L582.80,212.37 L581.54,213.33 L580.32,214.24 L579.13,215.14 L577.95,216.03 L576.77,216.93 L575.59,217.85 L574.40,218.80 L573.24,219.75 L572.14,220.66 L571.10,221.53 L570.09,222.39 L569.09,223.23 L568.09,224.09 L567.08,224.96 L566.03,225.86 L564.92,226.80 L563.74,227.80 L562.47,228.86 L561.10,230.00 L559.59,231.24 L557.95,232.60 L556.19,234.04 L554.36,235.54 L552.47,237.08 L550.56,238.64 L548.64,240.20 L546.75,241.74 L544.92,243.23 L543.16,244.65 L541.51,245.98 L540.00,247.20 L538.61,248.31 L537.32,249.33 L536.11,250.28 L534.96,251.17 L533.87,252.02 L532.81,252.83 L531.79,253.62 L530.77,254.40 L529.76,255.19 L528.74,255.99 L527.69,256.83 L526.60,257.70 L525.48,258.60 L524.36,259.51 L523.24,260.43 L522.12,261.35 L521.00,262.28 L519.88,263.21 L518.76,264.14 L517.65,265.07 L516.55,266.00 L515.45,266.94 L514.37,267.87 L513.30,268.80 L512.27,269.72 L511.31,270.61 L510.38,271.49 L509.48,272.37 L508.59,273.24 L507.69,274.12 L506.76,275.02 L505.79,275.94 L504.75,276.90 L503.64,277.88 L502.42,278.92 L501.10,280.00 L499.62,281.17 L497.97,282.42 L496.19,283.75 L494.32,285.13 L492.38,286.54 L490.42,287.96 L488.46,289.37 L486.55,290.74 L484.71,292.07 L482.98,293.31 L481.40,294.46 L480.00,295.50 L478.78,296.41 L477.69,297.22 L476.72,297.94 L475.86,298.59 L475.06,299.18 L474.32,299.74 L473.62,300.28 L472.93,300.82 L472.24,301.38 L471.51,301.96 L470.74,302.60 L469.90,303.30 L469.01,304.05 L468.11,304.83 L467.20,305.62 L466.27,306.43 L465.35,307.26 L464.41,308.09 L463.48,308.94 L462.54,309.80 L461.60,310.67 L460.66,311.54 L459.73,312.42 L458.80,313.30 L457.88,314.17 L456.98,315.03 L456.08,315.89 L455.18,316.75 L454.29,317.62 L453.39,318.50 L452.48,319.40 L451.56,320.33 L450.63,321.28 L449.68,322.28 L448.70,323.31 L447.70,324.40 L446.67,325.55 L445.60,326.77 L444.51,328.05 L443.40,329.37 L442.27,330.72 L441.14,332.09 L440.00,333.47 L438.86,334.84 L437.72,336.19 L436.60,337.51 L435.49,338.78 L434.40,340.00 L433.31,341.18 L432.20,342.35 L431.07,343.50 L429.94,344.64 L428.82,345.76 L427.71,346.86 L426.62,347.93 L425.57,348.97 L424.56,349.98 L423.61,350.96 L422.72,351.90 L421.90,352.80 L421.16,353.65 L420.49,354.45 L419.88,355.21 L419.32,355.93 L418.80,356.62 L418.32,357.29 L417.87,357.93 L417.44,358.57 L417.01,359.19 L416.59,359.82 L416.15,360.45 L415.70,361.10 L415.25,361.74 L414.82,362.36 L414.40,362.96 L414.00,363.55 L413.60,364.13 L413.21,364.71 L412.83,365.30 L412.44,365.90 L412.04,366.51 L411.64,367.14 L411.23,367.81 L410.80,368.50 L410.36,369.22 L409.91,369.95 L409.46,370.70 L409.00,371.46 L408.54,372.24 L408.07,373.04 L407.60,373.85 L407.13,374.68 L406.65,375.53 L406.17,376.40 L405.69,377.29 L405.20,378.20 L404.70,379.15 L404.19,380.14 L403.67,381.17 L403.14,382.22 L402.61,383.30 L402.07,384.38 L401.55,385.47 L401.03,386.54 L400.52,387.61 L400.02,388.64 L399.55,389.64 L399.10,390.60 L398.67,391.52 L398.26,392.41 L397.86,393.27 L397.47,394.11 L397.10,394.94 L396.73,395.75 L396.38,396.55 L396.03,397.36 L395.69,398.16 L395.36,398.96 L395.03,399.77 L394.70,400.60 L394.38,401.43 L394.07,402.27 L393.76,403.10 L393.47,403.94 L393.18,404.77 L392.89,405.61 L392.62,406.44 L392.34,407.27 L392.08,408.11 L391.81,408.94 L391.56,409.77 L391.30,410.60 L391.05,411.41 L390.80,412.20 L390.57,412.97 L390.33,413.74 L390.11,414.50 L389.88,415.27 L389.66,416.05 L389.44,416.86 L389.23,417.70 L389.02,418.58 L388.81,419.51 L388.60,420.50 L388.39,421.56 L388.19,422.70 L387.98,423.89 L387.78,425.14 L387.58,426.41 L387.38,427.71 L387.19,429.00 L387.00,430.29 L386.82,431.54 L386.64,432.76 L386.47,433.91 L386.30,435.00 L386.14,436.02 L385.99,436.99 L385.85,437.92 L385.71,438.82 L385.58,439.69 L385.46,440.54 L385.33,441.38 L385.21,442.21 L385.08,443.04 L384.96,443.88 L384.83,444.73 L384.70,445.60Z" fill="#80ffff"/>
</g>
<g clip-path="url(#clipb)">
<path d="M414.49,358.86 L446.27,318.26 L509.85,255.28 L573.42,181.61 L637.00,91.69" fill="none" stroke="#000" stroke-width="2.3"/>
<rect x="412.09" y="356.46" width="4.8" height="4.8" fill="#000"/>
<rect x="443.88" y="315.86" width="4.8" height="4.8" fill="#000"/>
<rect x="507.45" y="252.88" width="4.8" height="4.8" fill="#000"/>
<rect x="571.02" y="179.21" width="4.8" height="4.8" fill="#000"/>
<rect x="634.60" y="89.29" width="4.8" height="4.8" fill="#000"/>
<path d="M446.27,311.33 L462.17,292.71 L478.06,275.08 L493.96,256.27 L509.85,238.05 L525.74,219.63 L541.64,200.02 L557.53,180.61 L573.42,160.41 L589.32,138.23 L605.21,115.85 L621.11,91.49 L637.00,67.13" fill="none" stroke="#000" stroke-width="2.3"/>
<path d="M446.27,307.33 L450.07,314.03 L442.47,314.03Z" fill="#000"/>
<path d="M462.17,288.71 L465.97,295.41 L458.37,295.41Z" fill="#000"/>
<path d="M478.06,271.08 L481.86,277.78 L474.26,277.78Z" fill="#000"/>
<path d="M493.96,252.27 L497.76,258.97 L490.16,258.97Z" fill="#000"/>
<path d="M509.85,234.05 L513.65,240.75 L506.05,240.75Z" fill="#000"/>
<path d="M525.74,215.63 L529.54,222.33 L521.94,222.33Z" fill="#000"/>
<path d="M541.64,196.02 L545.44,202.72 L537.84,202.72Z" fill="#000"/>
<path d="M557.53,176.61 L561.33,183.31 L553.73,183.31Z" fill="#000"/>
<path d="M573.42,156.41 L577.22,163.11 L569.62,163.11Z" fill="#000"/>
<path d="M589.32,134.23 L593.12,140.93 L585.52,140.93Z" fill="#000"/>
<path d="M605.21,111.85 L609.01,118.55 L601.41,118.55Z" fill="#000"/>
<path d="M621.11,87.49 L624.91,94.19 L617.31,94.19Z" fill="#000"/>
<path d="M637.00,63.13 L640.80,69.83 L633.20,69.83Z" fill="#000"/>
</g>
<g clip-path="url(#clipb)" fill="none" stroke-linecap="butt" stroke-linejoin="round">
<path d="M382.80,445.00 L382.93,444.13 L383.06,443.28 L383.18,442.44 L383.31,441.61 L383.43,440.78 L383.56,439.94 L383.68,439.09 L383.81,438.22 L383.95,437.32 L384.09,436.39 L384.24,435.42 L384.40,434.40 L384.57,433.31 L384.74,432.16 L384.92,430.94 L385.10,429.69 L385.29,428.40 L385.48,427.11 L385.68,425.81 L385.88,424.54 L386.08,423.29 L386.29,422.10 L386.49,420.96 L386.70,419.90 L386.91,418.91 L387.12,417.98 L387.33,417.10 L387.54,416.26 L387.76,415.45 L387.98,414.67 L388.21,413.90 L388.43,413.14 L388.67,412.37 L388.90,411.60 L389.15,410.81 L389.40,410.00 L389.66,409.17 L389.91,408.34 L390.18,407.51 L390.44,406.67 L390.72,405.84 L390.99,405.01 L391.28,404.17 L391.57,403.34 L391.86,402.50 L392.17,401.67 L392.48,400.83 L392.80,400.00 L393.13,399.17 L393.46,398.36 L393.79,397.56 L394.13,396.76 L394.48,395.95 L394.83,395.15 L395.20,394.34 L395.57,393.51 L395.96,392.67 L396.36,391.81 L396.77,390.92 L397.20,390.00 L397.65,389.04 L398.12,388.04 L398.62,387.01 L399.13,385.94 L399.65,384.87 L400.18,383.78 L400.71,382.70 L401.24,381.62 L401.77,380.57 L402.29,379.54 L402.80,378.55 L403.30,377.60 L403.79,376.69 L404.27,375.80 L404.75,374.93 L405.23,374.08 L405.70,373.25 L406.18,372.44 L406.64,371.64 L407.10,370.86 L407.56,370.10 L408.01,369.35 L408.46,368.62 L408.90,367.90 L409.33,367.21 L409.74,366.54 L410.14,365.91 L410.54,365.30 L410.93,364.70 L411.31,364.11 L411.70,363.53 L412.10,362.95 L412.50,362.36 L412.92,361.76 L413.35,361.14 L413.80,360.50 L414.27,359.84 L414.75,359.17 L415.25,358.49 L415.76,357.80 L416.27,357.10 L416.79,356.40 L417.32,355.70 L417.86,354.99 L418.39,354.29 L418.93,353.59 L419.47,352.89 L420.00,352.20 L420.54,351.51 L421.10,350.80 L421.66,350.09 L422.23,349.38 L422.81,348.66 L423.38,347.96 L423.95,347.26 L424.51,346.57 L425.06,345.89 L425.59,345.24 L426.11,344.61 L426.60,344.00 L427.06,343.43 L427.50,342.90 L427.91,342.40 L428.31,341.92 L428.70,341.46 L429.08,341.00 L429.45,340.54 L429.83,340.08 L430.22,339.60 L430.63,339.10 L431.05,338.57 L431.50,338.00 L431.96,337.40 L432.43,336.79 L432.91,336.17 L433.39,335.53 L433.88,334.87 L434.38,334.20 L434.89,333.51 L435.42,332.81 L435.96,332.08 L436.52,331.34 L437.10,330.58 L437.70,329.80 L438.32,328.99 L438.95,328.16 L439.60,327.30 L440.26,326.42 L440.94,325.52 L441.63,324.61 L442.34,323.68 L443.06,322.75 L443.80,321.81 L444.55,320.87 L445.32,319.93 L446.10,319.00 L446.90,318.07 L447.72,317.13 L448.56,316.19 L449.42,315.24 L450.30,314.28 L451.18,313.32 L452.08,312.36 L452.98,311.40 L453.88,310.43 L454.79,309.45 L455.70,308.48 L456.60,307.50 L457.49,306.54 L458.36,305.60 L459.23,304.68 L460.09,303.76 L460.95,302.84 L461.83,301.91 L462.73,300.96 L463.64,299.97 L464.59,298.94 L465.58,297.86 L466.62,296.72 L467.70,295.50 L468.82,294.21 L469.96,292.86 L471.13,291.45 L472.32,290.00 L473.55,288.50 L474.81,286.96 L476.10,285.40 L477.44,283.81 L478.83,282.22 L480.27,280.61 L481.75,279.00 L483.30,277.40 L484.92,275.80 L486.61,274.18 L488.36,272.54 L490.17,270.89 L492.03,269.22 L493.92,267.54 L495.84,265.85 L497.77,264.14 L499.72,262.43 L501.66,260.70 L503.59,258.95 L505.50,257.20 L507.45,255.38 L509.49,253.47 L511.60,251.49 L513.74,249.47 L515.89,247.43 L518.02,245.41 L520.11,243.44 L522.11,241.53 L524.01,239.73 L525.78,238.05 L527.38,236.53 L528.80,235.20 L529.99,234.09 L530.96,233.18 L531.74,232.46 L532.38,231.87 L532.92,231.38 L533.39,230.96 L533.83,230.56 L534.29,230.14 L534.79,229.68 L535.39,229.12 L536.11,228.44 L537.00,227.60 L538.04,226.61 L539.17,225.53 L540.39,224.37 L541.66,223.15 L542.99,221.88 L544.36,220.57 L545.74,219.24 L547.14,217.89 L548.52,216.55 L549.89,215.23 L551.22,213.94 L552.50,212.70 L553.76,211.47 L555.03,210.24 L556.31,208.99 L557.59,207.74 L558.87,206.50 L560.12,205.26 L561.36,204.04 L562.57,202.85 L563.75,201.68 L564.88,200.54 L565.97,199.45 L567.00,198.40 L567.96,197.41 L568.85,196.49 L569.69,195.61 L570.48,194.78 L571.23,193.98 L571.96,193.19 L572.68,192.40 L573.40,191.61 L574.13,190.79 L574.88,189.94 L575.67,189.05 L576.50,188.10 L577.37,187.10 L578.26,186.07 L579.16,185.01 L580.08,183.92 L581.01,182.82 L581.95,181.69 L582.89,180.56 L583.84,179.41 L584.79,178.26 L585.73,177.10 L586.67,175.95 L587.60,174.80 L588.52,173.65 L589.45,172.49 L590.38,171.32 L591.30,170.14 L592.23,168.96 L593.15,167.77 L594.08,166.58 L595.00,165.38 L595.93,164.19 L596.85,162.99 L597.78,161.79 L598.70,160.60 L599.63,159.41 L600.56,158.21 L601.49,157.00 L602.42,155.80 L603.35,154.59 L604.28,153.39 L605.21,152.18 L606.14,150.98 L607.06,149.78 L607.98,148.58 L608.89,147.39 L609.80,146.20 L610.71,145.01 L611.63,143.81 L612.55,142.60 L613.47,141.39 L614.38,140.18 L615.29,138.97 L616.19,137.79 L617.08,136.61 L617.94,135.47 L618.79,134.34 L619.61,133.25 L620.40,132.20 L621.16,131.19 L621.87,130.23 L622.56,129.31 L623.23,128.42 L623.88,127.55 L624.51,126.70 L625.14,125.85 L625.77,125.00 L626.40,124.14 L627.05,123.26 L627.71,122.35 L628.40,121.40 L629.11,120.42 L629.82,119.43 L630.54,118.41 L631.27,117.39 L632.01,116.35 L632.75,115.30 L633.49,114.25 L634.24,113.19 L634.98,112.14 L635.72,111.09 L636.46,110.04 L637.20,109.00" stroke="#800000" stroke-width="2.5"/>
<path d="M382.80,445.00 L382.84,444.51 L382.87,444.07 L382.90,443.67 L382.92,443.28 L382.95,442.89 L382.97,442.48 L383.01,442.04 L383.04,441.56 L383.09,441.00 L383.15,440.37 L383.22,439.64 L383.30,438.80 L383.40,437.82 L383.51,436.70 L383.63,435.48 L383.76,434.16 L383.90,432.78 L384.04,431.36 L384.20,429.92 L384.35,428.49 L384.51,427.08 L384.67,425.74 L384.84,424.47 L385.00,423.30 L385.16,422.22 L385.32,421.20 L385.49,420.22 L385.66,419.27 L385.83,418.36 L386.00,417.47 L386.18,416.60 L386.37,415.74 L386.56,414.87 L386.76,414.00 L386.98,413.11 L387.20,412.20 L387.44,411.27 L387.69,410.34 L387.95,409.40 L388.21,408.46 L388.49,407.52 L388.77,406.58 L389.06,405.65 L389.35,404.72 L389.64,403.80 L389.93,402.89 L390.22,401.99 L390.50,401.10 L390.77,400.25 L391.03,399.43 L391.28,398.65 L391.53,397.89 L391.77,397.14 L392.03,396.38 L392.29,395.61 L392.56,394.81 L392.86,393.97 L393.18,393.08 L393.52,392.13 L393.90,391.10 L394.32,389.97 L394.77,388.75 L395.26,387.44 L395.77,386.07 L396.31,384.66 L396.85,383.23 L397.40,381.81 L397.95,380.41 L398.49,379.06 L399.02,377.78 L399.52,376.58 L400.00,375.50 L400.46,374.52 L400.90,373.61 L401.33,372.76 L401.75,371.97 L402.16,371.23 L402.57,370.53 L402.97,369.85 L403.37,369.19 L403.78,368.55 L404.18,367.91 L404.59,367.26 L405.00,366.60 L405.42,365.94 L405.83,365.31 L406.25,364.69 L406.67,364.10 L407.08,363.51 L407.50,362.93 L407.92,362.36 L408.33,361.78 L408.75,361.20 L409.17,360.62 L409.58,360.02 L410.00,359.40 L410.41,358.77 L410.82,358.13 L411.23,357.48 L411.63,356.82 L412.03,356.16 L412.44,355.50 L412.85,354.84 L413.26,354.18 L413.68,353.52 L414.11,352.87 L414.55,352.23 L415.00,351.60 L415.46,350.98 L415.93,350.37 L416.41,349.77 L416.90,349.17 L417.39,348.58 L417.89,347.99 L418.40,347.41 L418.91,346.81 L419.43,346.22 L419.95,345.62 L420.47,345.02 L421.00,344.40 L421.53,343.78 L422.08,343.15 L422.63,342.52 L423.18,341.89 L423.74,341.25 L424.31,340.61 L424.87,339.97 L425.44,339.32 L426.01,338.67 L426.58,338.02 L427.14,337.36 L427.70,336.70 L428.25,336.04 L428.79,335.38 L429.32,334.73 L429.85,334.07 L430.38,333.40 L430.91,332.74 L431.45,332.06 L432.00,331.38 L432.57,330.68 L433.16,329.97 L433.76,329.24 L434.40,328.50 L435.07,327.72 L435.78,326.89 L436.52,326.03 L437.29,325.14 L438.06,324.25 L438.85,323.35 L439.64,322.46 L440.41,321.60 L441.18,320.77 L441.92,319.99 L442.63,319.26 L443.30,318.60 L443.94,318.02 L444.54,317.50 L445.13,317.04 L445.69,316.62 L446.24,316.24 L446.78,315.88 L447.31,315.53 L447.84,315.18 L448.37,314.83 L448.90,314.45 L449.45,314.05 L450.00,313.60 L450.55,313.14 L451.08,312.69 L451.59,312.25 L452.10,311.80 L452.60,311.35 L453.12,310.88 L453.65,310.38 L454.20,309.86 L454.79,309.29 L455.41,308.68 L456.08,308.02 L456.80,307.30 L457.56,306.53 L458.33,305.72 L459.11,304.87 L459.93,303.99 L460.77,303.07 L461.66,302.11 L462.58,301.11 L463.55,300.07 L464.57,298.99 L465.65,297.87 L466.79,296.70 L468.00,295.50 L469.28,294.25 L470.63,292.96 L472.04,291.62 L473.51,290.25 L475.03,288.83 L476.60,287.38 L478.21,285.88 L479.86,284.35 L481.53,282.79 L483.24,281.19 L484.96,279.56 L486.70,277.90 L488.48,276.19 L490.32,274.40 L492.22,272.56 L494.16,270.67 L496.13,268.74 L498.12,266.79 L500.12,264.84 L502.12,262.88 L504.11,260.93 L506.07,259.01 L508.01,257.13 L509.90,255.30 L511.81,253.47 L513.79,251.59 L515.80,249.68 L517.84,247.77 L519.86,245.88 L521.84,244.01 L523.76,242.20 L525.60,240.46 L527.31,238.81 L528.88,237.27 L530.29,235.86 L531.50,234.60 L532.46,233.53 L533.16,232.67 L533.65,231.96 L533.98,231.39 L534.19,230.90 L534.33,230.47 L534.45,230.06 L534.60,229.63 L534.82,229.15 L535.16,228.57 L535.67,227.87 L536.40,227.00 L537.32,225.98 L538.38,224.86 L539.56,223.66 L540.83,222.38 L542.17,221.05 L543.56,219.68 L544.99,218.29 L546.43,216.89 L547.86,215.49 L549.26,214.12 L550.62,212.78 L551.90,211.50 L553.15,210.24 L554.41,208.97 L555.67,207.69 L556.94,206.42 L558.19,205.15 L559.43,203.89 L560.65,202.66 L561.84,201.45 L563.00,200.27 L564.11,199.13 L565.18,198.04 L566.20,197.00 L567.15,196.03 L568.03,195.14 L568.85,194.30 L569.63,193.51 L570.38,192.76 L571.10,192.03 L571.81,191.29 L572.52,190.55 L573.25,189.79 L573.99,188.98 L574.77,188.12 L575.60,187.20 L576.47,186.22 L577.35,185.20 L578.26,184.14 L579.17,183.06 L580.10,181.95 L581.04,180.82 L581.99,179.68 L582.94,178.53 L583.89,177.37 L584.83,176.21 L585.77,175.05 L586.70,173.90 L587.62,172.75 L588.55,171.59 L589.48,170.42 L590.40,169.24 L591.33,168.06 L592.25,166.87 L593.18,165.68 L594.10,164.48 L595.02,163.29 L595.95,162.09 L596.88,160.89 L597.80,159.70 L598.73,158.51 L599.66,157.31 L600.59,156.10 L601.52,154.90 L602.45,153.69 L603.38,152.49 L604.31,151.28 L605.24,150.08 L606.16,148.88 L607.08,147.68 L607.99,146.49 L608.90,145.30 L609.81,144.11 L610.73,142.91 L611.65,141.70 L612.57,140.49 L613.48,139.28 L614.39,138.08 L615.29,136.89 L616.18,135.71 L617.04,134.57 L617.89,133.44 L618.71,132.35 L619.50,131.30 L620.25,130.30 L620.96,129.34 L621.64,128.43 L622.30,127.55 L622.93,126.69 L623.56,125.84 L624.18,125.00 L624.80,124.15 L625.44,123.29 L626.10,122.40 L626.78,121.47 L627.50,120.50 L628.25,119.49 L629.02,118.45 L629.81,117.39 L630.61,116.30 L631.42,115.20 L632.24,114.09 L633.07,112.97 L633.90,111.85 L634.74,110.73 L635.56,109.61 L636.39,108.50 L637.20,107.40" stroke="#00ff00" stroke-width="2.3" stroke-linecap="round" stroke-dasharray="9.8 7.4 0.8 7.4"/>
<path d="M382.80,445.00 L382.93,444.13 L383.06,443.28 L383.18,442.44 L383.31,441.61 L383.43,440.78 L383.56,439.94 L383.68,439.09 L383.81,438.22 L383.95,437.32 L384.09,436.39 L384.24,435.42 L384.40,434.40 L384.57,433.31 L384.74,432.16 L384.92,430.94 L385.10,429.69 L385.29,428.40 L385.48,427.11 L385.68,425.81 L385.88,424.54 L386.08,423.29 L386.29,422.10 L386.49,420.96 L386.70,419.90 L386.91,418.91 L387.12,417.98 L387.33,417.10 L387.54,416.26 L387.76,415.45 L387.98,414.67 L388.21,413.90 L388.43,413.14 L388.67,412.37 L388.90,411.60 L389.15,410.81 L389.40,410.00 L389.66,409.17 L389.91,408.34 L390.18,407.51 L390.44,406.67 L390.72,405.84 L390.99,405.01 L391.28,404.17 L391.57,403.34 L391.86,402.50 L392.17,401.67 L392.48,400.83 L392.80,400.00 L393.13,399.17 L393.46,398.36 L393.79,397.56 L394.13,396.76 L394.48,395.95 L394.83,395.15 L395.20,394.34 L395.57,393.51 L395.96,392.67 L396.36,391.81 L396.77,390.92 L397.20,390.00 L397.65,389.04 L398.12,388.04 L398.62,387.01 L399.13,385.94 L399.65,384.87 L400.18,383.78 L400.71,382.70 L401.24,381.62 L401.77,380.57 L402.29,379.54 L402.80,378.55 L403.30,377.60 L403.79,376.69 L404.27,375.80 L404.75,374.93 L405.23,374.08 L405.70,373.25 L406.18,372.44 L406.64,371.64 L407.10,370.86 L407.56,370.10 L408.01,369.35 L408.46,368.62 L408.90,367.90 L409.33,367.21 L409.74,366.54 L410.14,365.91 L410.54,365.30 L410.93,364.70 L411.31,364.11 L411.70,363.53 L412.10,362.95 L412.50,362.36 L412.92,361.76 L413.35,361.14 L413.80,360.50 L414.27,359.84 L414.75,359.17 L415.25,358.49 L415.76,357.80 L416.27,357.10 L416.79,356.40 L417.32,355.70 L417.86,354.99 L418.39,354.29 L418.93,353.59 L419.47,352.89 L420.00,352.20 L420.54,351.51 L421.10,350.80 L421.66,350.09 L422.23,349.38 L422.81,348.66 L423.38,347.96 L423.95,347.26 L424.51,346.57 L425.06,345.89 L425.59,345.24 L426.11,344.61 L426.60,344.00 L427.06,343.43 L427.50,342.90 L427.91,342.40 L428.31,341.92 L428.70,341.46 L429.08,341.00 L429.45,340.54 L429.83,340.08 L430.22,339.60 L430.63,339.10 L431.05,338.57 L431.50,338.00 L431.96,337.40 L432.43,336.79 L432.91,336.17 L433.39,335.53 L433.88,334.87 L434.38,334.20 L434.89,333.51 L435.42,332.81 L435.96,332.08 L436.52,331.34 L437.10,330.58 L437.70,329.80 L438.32,328.99 L438.95,328.16 L439.60,327.30 L440.26,326.42 L440.94,325.52 L441.63,324.61 L442.34,323.68 L443.06,322.75 L443.80,321.81 L444.55,320.87 L445.32,319.93 L446.10,319.00 L446.90,318.07 L447.72,317.13 L448.56,316.19 L449.42,315.24 L450.30,314.28 L451.18,313.32 L452.08,312.36 L452.98,311.40 L453.88,310.43 L454.79,309.45 L455.70,308.48 L456.60,307.50 L457.49,306.54 L458.36,305.60 L459.23,304.68 L460.09,303.76 L460.95,302.84 L461.83,301.91 L462.73,300.96 L463.64,299.97 L464.59,298.94 L465.58,297.86 L466.62,296.72 L467.70,295.50 L468.82,294.21 L469.96,292.86 L471.13,291.45 L472.32,290.00 L473.55,288.50 L474.81,286.96 L476.10,285.40 L477.44,283.81 L478.83,282.22 L480.27,280.61 L481.75,279.00 L483.30,277.40 L484.92,275.80 L486.61,274.18 L488.36,272.54 L490.17,270.89 L492.03,269.22 L493.92,267.54 L495.84,265.85 L497.77,264.14 L499.72,262.43 L501.66,260.70 L503.59,258.95 L505.50,257.20 L507.45,255.38 L509.49,253.47 L511.60,251.49 L513.74,249.47 L515.89,247.43 L518.02,245.41 L520.11,243.44 L522.11,241.53 L524.01,239.73 L525.78,238.05 L527.38,236.53 L528.80,235.20 L529.99,234.09 L530.96,233.18 L531.74,232.46 L532.38,231.87 L532.92,231.38 L533.39,230.96 L533.83,230.56 L534.29,230.14 L534.79,229.68 L535.39,229.12 L536.11,228.44 L537.00,227.60 L538.04,226.61 L539.17,225.53 L540.39,224.37 L541.66,223.15 L542.99,221.88 L544.36,220.57 L545.74,219.24 L547.14,217.89 L548.52,216.55 L549.89,215.23 L551.22,213.94 L552.50,212.70 L553.76,211.47 L555.03,210.24 L556.31,208.99 L557.59,207.74 L558.87,206.50 L560.12,205.26 L561.36,204.04 L562.57,202.85 L563.75,201.68 L564.88,200.54 L565.97,199.45 L567.00,198.40 L567.96,197.41 L568.85,196.49 L569.69,195.61 L570.48,194.78 L571.23,193.98 L571.96,193.19 L572.68,192.40 L573.40,191.61 L574.13,190.79 L574.88,189.94 L575.67,189.05 L576.50,188.10 L577.37,187.10 L578.26,186.07 L579.16,185.01 L580.08,183.92 L581.01,182.82 L581.95,181.69 L582.89,180.56 L583.84,179.41 L584.79,178.26 L585.73,177.10 L586.67,175.95 L587.60,174.80 L588.52,173.65 L589.45,172.49 L590.38,171.32 L591.30,170.14 L592.23,168.96 L593.15,167.77 L594.08,166.58 L595.00,165.38 L595.93,164.19 L596.85,162.99 L597.78,161.79 L598.70,160.60 L599.63,159.41 L600.56,158.21 L601.49,157.00 L602.42,155.80 L603.35,154.59 L604.28,153.39 L605.21,152.18 L606.14,150.98 L607.06,149.78 L607.98,148.58 L608.89,147.39 L609.80,146.20 L610.71,145.01 L611.63,143.81 L612.55,142.60 L613.47,141.39 L614.38,140.18 L615.29,138.97 L616.19,137.79 L617.08,136.61 L617.94,135.47 L618.79,134.34 L619.61,133.25 L620.40,132.20 L621.16,131.19 L621.87,130.23 L622.56,129.31 L623.23,128.42 L623.88,127.55 L624.51,126.70 L625.14,125.85 L625.77,125.00 L626.40,124.14 L627.05,123.26 L627.71,122.35 L628.40,121.40 L629.11,120.42 L629.82,119.43 L630.54,118.41 L631.27,117.39 L632.01,116.35 L632.75,115.30 L633.49,114.25 L634.24,113.19 L634.98,112.14 L635.72,111.09 L636.46,110.04 L637.20,109.00" stroke="#ff0000" stroke-width="2.7" stroke-linecap="round" stroke-dasharray="7.3 11.7"/>
<path d="M382.80,445.00 L382.84,444.51 L382.87,444.07 L382.90,443.67 L382.92,443.28 L382.95,442.89 L382.97,442.48 L383.01,442.04 L383.04,441.56 L383.09,441.00 L383.15,440.37 L383.22,439.64 L383.30,438.80 L383.40,437.82 L383.51,436.70 L383.63,435.48 L383.76,434.16 L383.90,432.78 L384.04,431.36 L384.20,429.92 L384.35,428.49 L384.51,427.08 L384.67,425.74 L384.84,424.47 L385.00,423.30 L385.16,422.22 L385.32,421.20 L385.49,420.22 L385.66,419.27 L385.83,418.36 L386.00,417.47 L386.18,416.60 L386.37,415.74 L386.56,414.87 L386.76,414.00 L386.98,413.11 L387.20,412.20 L387.44,411.27 L387.69,410.34 L387.95,409.40 L388.21,408.46 L388.49,407.52 L388.77,406.58 L389.06,405.65 L389.35,404.72 L389.64,403.80 L389.93,402.89 L390.22,401.99 L390.50,401.10 L390.77,400.25 L391.03,399.43 L391.28,398.65 L391.53,397.89 L391.77,397.14 L392.03,396.38 L392.29,395.61 L392.56,394.81 L392.86,393.97 L393.18,393.08 L393.52,392.13 L393.90,391.10 L394.32,389.97 L394.77,388.75 L395.26,387.44 L395.77,386.07 L396.31,384.66 L396.85,383.23 L397.40,381.81 L397.95,380.41 L398.49,379.06 L399.02,377.78 L399.52,376.58 L400.00,375.50 L400.46,374.52 L400.90,373.61 L401.33,372.76 L401.75,371.97 L402.16,371.23 L402.57,370.53 L402.97,369.85 L403.37,369.19 L403.78,368.55 L404.18,367.91 L404.59,367.26 L405.00,366.60 L405.42,365.94 L405.83,365.31 L406.25,364.69 L406.67,364.10 L407.08,363.51 L407.50,362.93 L407.92,362.36 L408.33,361.78 L408.75,361.20 L409.17,360.62 L409.58,360.02 L410.00,359.40 L410.41,358.77 L410.82,358.13 L411.23,357.48 L411.63,356.82 L412.03,356.16 L412.44,355.50 L412.85,354.84 L413.26,354.18 L413.68,353.52 L414.11,352.87 L414.55,352.23 L415.00,351.60 L415.46,350.98 L415.93,350.37 L416.41,349.77 L416.90,349.17 L417.39,348.58 L417.89,347.99 L418.40,347.41 L418.91,346.81 L419.43,346.22 L419.95,345.62 L420.47,345.02 L421.00,344.40 L421.53,343.78 L422.08,343.15 L422.63,342.52 L423.18,341.89 L423.74,341.25 L424.31,340.61 L424.87,339.97 L425.44,339.32 L426.01,338.67 L426.58,338.02 L427.14,337.36 L427.70,336.70 L428.25,336.04 L428.79,335.38 L429.32,334.73 L429.85,334.07 L430.38,333.40 L430.91,332.74 L431.45,332.06 L432.00,331.38 L432.57,330.68 L433.16,329.97 L433.76,329.24 L434.40,328.50 L435.07,327.72 L435.78,326.89 L436.52,326.03 L437.29,325.14 L438.06,324.25 L438.85,323.35 L439.64,322.46 L440.41,321.60 L441.18,320.77 L441.92,319.99 L442.63,319.26 L443.30,318.60 L443.94,318.02 L444.54,317.50 L445.13,317.04 L445.69,316.62 L446.24,316.24 L446.78,315.88 L447.31,315.53 L447.84,315.18 L448.37,314.83 L448.90,314.45 L449.45,314.05 L450.00,313.60 L450.55,313.14 L451.08,312.69 L451.59,312.25 L452.10,311.80 L452.60,311.35 L453.12,310.88 L453.65,310.38 L454.20,309.86 L454.79,309.29 L455.41,308.68 L456.08,308.02 L456.80,307.30 L457.56,306.53 L458.33,305.72 L459.11,304.87 L459.93,303.99 L460.77,303.07 L461.66,302.11 L462.58,301.11 L463.55,300.07 L464.57,298.99 L465.65,297.87 L466.79,296.70 L468.00,295.50 L469.28,294.25 L470.63,292.96 L472.04,291.62 L473.51,290.25 L475.03,288.83 L476.60,287.38 L478.21,285.88 L479.86,284.35 L481.53,282.79 L483.24,281.19 L484.96,279.56 L486.70,277.90 L488.48,276.19 L490.32,274.40 L492.22,272.56 L494.16,270.67 L496.13,268.74 L498.12,266.79 L500.12,264.84 L502.12,262.88 L504.11,260.93 L506.07,259.01 L508.01,257.13 L509.90,255.30 L511.81,253.47 L513.79,251.59 L515.80,249.68 L517.84,247.77 L519.86,245.88 L521.84,244.01 L523.76,242.20 L525.60,240.46 L527.31,238.81 L528.88,237.27 L530.29,235.86 L531.50,234.60 L532.46,233.53 L533.16,232.67 L533.65,231.96 L533.98,231.39 L534.19,230.90 L534.33,230.47 L534.45,230.06 L534.60,229.63 L534.82,229.15 L535.16,228.57 L535.67,227.87 L536.40,227.00 L537.32,225.98 L538.38,224.86 L539.56,223.66 L540.83,222.38 L542.17,221.05 L543.56,219.68 L544.99,218.29 L546.43,216.89 L547.86,215.49 L549.26,214.12 L550.62,212.78 L551.90,211.50 L553.15,210.24 L554.41,208.97 L555.67,207.69 L556.94,206.42 L558.19,205.15 L559.43,203.89 L560.65,202.66 L561.84,201.45 L563.00,200.27 L564.11,199.13 L565.18,198.04 L566.20,197.00 L567.15,196.03 L568.03,195.14 L568.85,194.30 L569.63,193.51 L570.38,192.76 L571.10,192.03 L571.81,191.29 L572.52,190.55 L573.25,189.79 L573.99,188.98 L574.77,188.12 L575.60,187.20 L576.47,186.22 L577.35,185.20 L578.26,184.14 L579.17,183.06 L580.10,181.95 L581.04,180.82 L581.99,179.68 L582.94,178.53 L583.89,177.37 L584.83,176.21 L585.77,175.05 L586.70,173.90 L587.62,172.75 L588.55,171.59 L589.48,170.42 L590.40,169.24 L591.33,168.06 L592.25,166.87 L593.18,165.68 L594.10,164.48 L595.02,163.29 L595.95,162.09 L596.88,160.89 L597.80,159.70 L598.73,158.51 L599.66,157.31 L600.59,156.10 L601.52,154.90 L602.45,153.69 L603.38,152.49 L604.31,151.28 L605.24,150.08 L606.16,148.88 L607.08,147.68 L607.99,146.49 L608.90,145.30 L609.81,144.11 L610.73,142.91 L611.65,141.70 L612.57,140.49 L613.48,139.28 L614.39,138.08 L615.29,136.89 L616.18,135.71 L617.04,134.57 L617.89,133.44 L618.71,132.35 L619.50,131.30 L620.25,130.30 L620.96,129.34 L621.64,128.43 L622.30,127.55 L622.93,126.69 L623.56,125.84 L624.18,125.00 L624.80,124.15 L625.44,123.29 L626.10,122.40 L626.78,121.47 L627.50,120.50 L628.25,119.49 L629.02,118.45 L629.81,117.39 L630.61,116.30 L631.42,115.20 L632.24,114.09 L633.07,112.97 L633.90,111.85 L634.74,110.73 L635.56,109.61 L636.39,108.50 L637.20,107.40" stroke="#0000ff" stroke-width="2.4" stroke-linecap="round" stroke-dasharray="3.1 5.9"/>
</g>
<rect x="382.7" y="50.1" width="254.3" height="396.09999999999997" fill="none" stroke="#000" stroke-width="2.3"/>
<path d="M382.70,446.2 v-12 M382.70,50.1 v12 M414.49,446.2 v-6.5 M414.49,50.1 v6.5 M446.27,446.2 v-12 M446.27,50.1 v12 M478.06,446.2 v-6.5 M478.06,50.1 v6.5 M509.85,446.2 v-12 M509.85,50.1 v12 M541.64,446.2 v-6.5 M541.64,50.1 v6.5 M573.42,446.2 v-12 M573.42,50.1 v12 M605.21,446.2 v-6.5 M605.21,50.1 v6.5 M637.00,446.2 v-12 M637.00,50.1 v12 M382.7,446.20 h12 M637.0,446.20 h-12 M382.7,396.69 h6.5 M637.0,396.69 h-6.5 M382.7,347.17 h12 M637.0,347.17 h-12 M382.7,297.66 h6.5 M637.0,297.66 h-6.5 M382.7,248.15 h12 M637.0,248.15 h-12 M382.7,198.64 h6.5 M637.0,198.64 h-6.5 M382.7,149.12 h12 M637.0,149.12 h-12 M382.7,99.61 h6.5 M637.0,99.61 h-6.5 M382.7,50.10 h12 M637.0,50.10 h-12" stroke="#000" stroke-width="2.3" fill="none"/>
<path d="M95.3,72.9 h15.0 M138.3,72.9 h-15.3" stroke="#000" stroke-width="2.3"/>
<rect x="114.19999999999999" y="70.4" width="5" height="5" fill="#000"/>
<text x="142.5" y="78.80" font-size="18.4">APR</text>
<path d="M95.3,95.7 h15.0 M138.3,95.7 h-15.3" stroke="#000" stroke-width="2.3"/>
<path d="M116.69999999999999,91.9 L119.99999999999999,97.7 L113.39999999999999,97.7Z" fill="#000"/>
<text x="142.5" y="101.60" font-size="18.4">AV8’+UIX</text>
<path d="M95.3,118.4 H138.3" stroke="#800000" stroke-width="2.5"/>
<text x="142.5" y="124.30" font-size="18.4">NL3*</text>
<path d="M95.3,141.1 H138.3" stroke="#00ff00" stroke-width="2.2" stroke-dasharray="10.5 4.2 2.8 4.2"/>
<text x="142.5" y="147.00" font-size="18.4">SkNL3*</text>
<path d="M95.3,163.7 H138.3" stroke="#ff0000" stroke-width="2.2" stroke-dasharray="8.4 8.3"/>
<text x="142.5" y="169.60" font-size="18.4">IU-FSU</text>
<path d="M95.3,186.3 H138.3" stroke="#0000ff" stroke-width="2.2" stroke-dasharray="4.2 2.75"/>
<text x="142.5" y="192.20" font-size="18.4">SkIU-FSU</text>
<path d="M396.1,76.6 h15.0 M439.1,76.6 h-15.3" stroke="#000" stroke-width="2.3"/>
<rect x="415.0" y="74.1" width="5" height="5" fill="#000"/>
<text x="443.9" y="82.50" font-size="18.4">APR</text>
<path d="M396.1,99.4 h15.0 M439.1,99.4 h-15.3" stroke="#000" stroke-width="2.3"/>
<path d="M417.5,95.60000000000001 L420.8,101.4 L414.2,101.4Z" fill="#000"/>
<text x="443.9" y="105.30" font-size="18.4">AV8’+UIX</text>
<path d="M396.1,122.2 H439.1" stroke="#800000" stroke-width="2.5"/>
<text x="443.9" y="128.10" font-size="18.4">NL3*</text>
<path d="M396.1,145.1 H439.1" stroke="#00ff00" stroke-width="2.2" stroke-dasharray="10.5 4.2 2.8 4.2"/>
<text x="443.9" y="151.00" font-size="18.4">SkNL3*</text>
<path d="M396.1,167.9 H439.1" stroke="#ff0000" stroke-width="2.2" stroke-dasharray="8.4 8.3"/>
<text x="443.9" y="173.80" font-size="18.4">IU-FSU</text>
<path d="M396.1,190.8 H439.1" stroke="#0000ff" stroke-width="2.2" stroke-dasharray="4.2 2.75"/>
<text x="443.9" y="196.70" font-size="18.4">SkIU-FSU</text>
<text x="80.40" y="477.4" font-size="23.4" text-anchor="middle">0.00</text>
<text x="382.70" y="477.4" font-size="23.4" text-anchor="middle">0.00</text>
<text x="142.35" y="477.4" font-size="23.4" text-anchor="middle">0.04</text>
<text x="446.27" y="477.4" font-size="23.4" text-anchor="middle">0.04</text>
<text x="204.30" y="477.4" font-size="23.4" text-anchor="middle">0.08</text>
<text x="509.85" y="477.4" font-size="23.4" text-anchor="middle">0.08</text>
<text x="266.25" y="477.4" font-size="23.4" text-anchor="middle">0.12</text>
<text x="573.42" y="477.4" font-size="23.4" text-anchor="middle">0.12</text>
<text x="328.20" y="477.4" font-size="23.4" text-anchor="middle">0.16</text>
<text x="637.00" y="477.4" font-size="23.4" text-anchor="middle">0.16</text>
<text x="67.4" y="453.10" font-size="23.4" text-anchor="end">0</text>
<text x="648.8" y="453.50" font-size="23.4" text-anchor="start">0</text>
<text x="67.4" y="353.45" font-size="23.4" text-anchor="end">5</text>
<text x="648.8" y="354.47" font-size="23.4" text-anchor="start">5</text>
<text x="67.4" y="253.80" font-size="23.4" text-anchor="end">10</text>
<text x="648.8" y="255.45" font-size="23.4" text-anchor="start">10</text>
<text x="67.4" y="154.15" font-size="23.4" text-anchor="end">15</text>
<text x="648.8" y="156.43" font-size="23.4" text-anchor="start">15</text>
<text x="67.4" y="54.50" font-size="23.4" text-anchor="end">20</text>
<text x="648.8" y="57.40" font-size="23.4" text-anchor="start">20</text>
<text x="269.6" y="414" font-size="23" letter-spacing="0.7">(a)</text>
<text x="578" y="415.1" font-size="23">(b)</text>
<text transform="translate(26.3,314.7) rotate(-90)" font-size="24"><tspan x="0">E</tspan><tspan font-size="16.8" x="16.1" dy="9.2">PNM</tspan><tspan x="57.9" dy="-9.2">(MeV)</tspan></text>
<text x="319.5" y="525" font-size="23.4">ρ<tspan dx="5">(fm</tspan><tspan font-size="16.5" dy="-12.7" dx="-0.3">-3</tspan><tspan dy="12.7" dx="0.6">)</tspan></text>
</svg></body></html>
